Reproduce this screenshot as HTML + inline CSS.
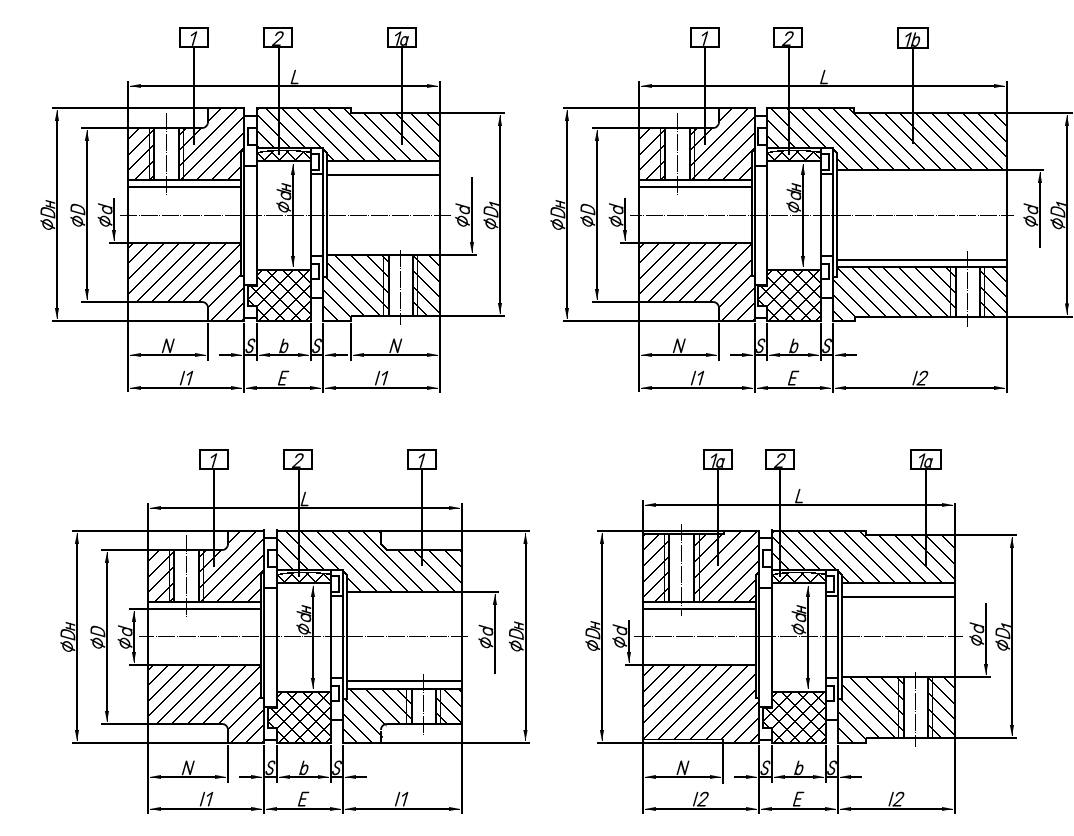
<!DOCTYPE html><html><head><meta charset="utf-8"><style>html,body{margin:0;padding:0;background:#fff;overflow:hidden;}svg{display:block;}</style></head><body><svg width="1074" height="836" viewBox="0 0 1074 836" stroke="#000" stroke-linecap="butt" shape-rendering="crispEdges"><defs><clipPath id="c1"><path d="M128,128 L154,128 L154,180 L128,180 Z M179,128 L202,128 L203.17,127.88 L204.3,127.54 L205.33,126.99 L206.24,126.24 L206.99,125.33 L207.54,124.3 L207.88,123.17 L208,122 L208,108 L244,108 L244,149 L241,152 L241,180 L179,180 Z M128,243 L241,243 L241,276 L244,276 L244,321 L208,321 L208,308 L207.88,306.83 L207.54,305.7 L206.99,304.67 L206.24,303.76 L205.33,303.01 L204.3,302.46 L203.17,302.12 L202,302 L128,302 Z" clip-rule="evenodd"/></clipPath><clipPath id="c2"><path d="M257,152.6 Q281,148.2 311,152.2 L311,161 L257,161 Z" clip-rule="evenodd"/></clipPath><clipPath id="c3"><path d="M257,152.6 Q281,148.2 311,152.2 L311,161 L257,161 Z" clip-rule="evenodd"/></clipPath><clipPath id="c4"><path d="M257,270 L311,270 L311,321 L257,321 L257,306 L248,306 L248,286 L257,286 Z" clip-rule="evenodd"/></clipPath><clipPath id="c5"><path d="M257,270 L311,270 L311,321 L257,321 L257,306 L248,306 L248,286 L257,286 Z" clip-rule="evenodd"/></clipPath><clipPath id="c6"><path d="M257,111 L257.6,109.4 L258.6,108.4 L260,108 L351,108 L351,113 L440,113 L440,161 L327,161 L327,153 L323,149 L323,148 L257,148 Z M327,255 L389,255 L389,316 L351,316 L351,321 L323,321 L323,277 L327,277 Z M413,255 L440,255 L440,316 L413,316 Z" clip-rule="evenodd"/></clipPath><clipPath id="c7"><path d="M639,128 L665,128 L665,180 L639,180 Z M690,128 L713,128 L714.17,127.88 L715.3,127.54 L716.33,126.99 L717.24,126.24 L717.99,125.33 L718.54,124.3 L718.88,123.17 L719,122 L719,108 L755,108 L755,149 L752,152 L752,180 L690,180 Z M639,243 L752,243 L752,276 L755,276 L755,321 L719,321 L719,308 L718.88,306.83 L718.54,305.7 L717.99,304.67 L717.24,303.76 L716.33,303.01 L715.3,302.46 L714.17,302.12 L713,302 L639,302 Z" clip-rule="evenodd"/></clipPath><clipPath id="c8"><path d="M767,152.6 Q791,148.2 821,152.2 L821,161 L767,161 Z" clip-rule="evenodd"/></clipPath><clipPath id="c9"><path d="M767,152.6 Q791,148.2 821,152.2 L821,161 L767,161 Z" clip-rule="evenodd"/></clipPath><clipPath id="c10"><path d="M767,270 L821,270 L821,321 L767,321 L767,306 L758,306 L758,286 L767,286 Z" clip-rule="evenodd"/></clipPath><clipPath id="c11"><path d="M767,270 L821,270 L821,321 L767,321 L767,306 L758,306 L758,286 L767,286 Z" clip-rule="evenodd"/></clipPath><clipPath id="c12"><path d="M767,108 L854,108 L854,113 L1007,113 L1007,170 L837,170 L837,153 L833,149 L833,148 L767,148 Z M837,267 L956,267 L956,316.5 L855,316.5 L855,321 L833,321 L833,276 L837,276 Z M980,267 L1007,267 L1007,316.5 L980,316.5 Z" clip-rule="evenodd"/></clipPath><clipPath id="c13"><path d="M148,550 L174,550 L174,602 L148,602 Z M199,550 L222,550 L223.17,549.88 L224.3,549.54 L225.33,548.99 L226.24,548.24 L226.99,547.33 L227.54,546.3 L227.88,545.17 L228,544 L228,531 L264,531 L264,571 L261,574 L261,602 L199,602 Z M148,665 L261,665 L261,698 L264,698 L264,743 L228,743 L228,730 L227.88,728.83 L227.54,727.7 L226.99,726.67 L226.24,725.76 L225.33,725.01 L224.3,724.46 L223.17,724.12 L222,724 L148,724 Z" clip-rule="evenodd"/></clipPath><clipPath id="c14"><path d="M277,574.6 Q301,570.2 331,574.2 L331,583 L277,583 Z" clip-rule="evenodd"/></clipPath><clipPath id="c15"><path d="M277,574.6 Q301,570.2 331,574.2 L331,583 L277,583 Z" clip-rule="evenodd"/></clipPath><clipPath id="c16"><path d="M277,692 L331,692 L331,743 L277,743 L277,728 L268,728 L268,708 L277,708 Z" clip-rule="evenodd"/></clipPath><clipPath id="c17"><path d="M277,692 L331,692 L331,743 L277,743 L277,728 L268,728 L268,708 L277,708 Z" clip-rule="evenodd"/></clipPath><clipPath id="c18"><path d="M276,533 L278,531 L381,531 L381,544 L387,550 L462,550 L462,592 L347,592 L347,575 L343,571 L343,570 L276,570 Z M347,689 L412,689 L412,724 L387,724 L381,730 L381.12,728.83 L381.46,727.7 L382.01,726.67 L382.76,725.76 L383.67,725.01 L384.7,724.46 L385.83,724.12 L387,724 L381,743 L343,743 L343,699 L347,699 Z M436,689 L462,689 L462,724 L436,724 Z" clip-rule="evenodd"/></clipPath><clipPath id="c19"><path d="M772,574.6 Q796,570.2 826,574.2 L826,583 L772,583 Z" clip-rule="evenodd"/></clipPath><clipPath id="c20"><path d="M772,574.6 Q796,570.2 826,574.2 L826,583 L772,583 Z" clip-rule="evenodd"/></clipPath><clipPath id="c21"><path d="M772,692 L826,692 L826,743 L772,743 L772,728 L763,728 L763,708 L772,708 Z" clip-rule="evenodd"/></clipPath><clipPath id="c22"><path d="M772,692 L826,692 L826,743 L772,743 L772,728 L763,728 L763,708 L772,708 Z" clip-rule="evenodd"/></clipPath><clipPath id="c23"><path d="M772,534 L772.6,532.4 L773.6,531.4 L775,531 L866,531 L866,535 L955,535 L955,583 L842,583 L842,575 L838,571 L838,570 L772,570 Z M842,677 L904,677 L904,738 L866,738 L866,743 L838,743 L838,699 L842,699 Z M928,677 L955,677 L955,738 L928,738 Z" clip-rule="evenodd"/></clipPath><clipPath id="c24"><path d="M643,536 L645,534 L669,534 L669,602 L643,602 Z M694,534 L724,534 L724,531 L759,531 L759,572 L756,575 L756,602 L694,602 Z M643,665 L756,665 L756,698 L759,698 L759,743 L723,743 L723,739.5 L643,739.5 Z" clip-rule="evenodd"/></clipPath></defs><path d="M180,28 L208,28 L208,47 L180,47 Z" stroke-width="2.0" fill="none"/><g transform="translate(194,45.2) scale(1.32) matrix(1,0,-0.29,1,0,0)" fill="none" stroke-width="1.17" stroke-linecap="round" stroke-linejoin="round" shape-rendering="geometricPrecision"><path transform="translate(-4.17,-10)" d="M0.2,2.6 L3.1,0 L3.1,10"/></g><line x1="194" y1="47" x2="194" y2="145" stroke-width="2.0"/><path d="M264,28 L292,28 L292,47 L264,47 Z" stroke-width="2.0" fill="none"/><g transform="translate(278,45.2) scale(1.32) matrix(1,0,-0.29,1,0,0)" fill="none" stroke-width="1.17" stroke-linecap="round" stroke-linejoin="round" shape-rendering="geometricPrecision"><path transform="translate(-4.05,-10)" d="M0.3,2.5 C0.5,0.9 1.7,0 3,0 C4.5,0 5.5,1 5.5,2.5 C5.5,3.9 4.6,4.9 3.5,5.9 L0,10 L5.6,10"/></g><line x1="279" y1="47" x2="279" y2="155" stroke-width="2.0"/><path d="M388,28 L416,28 L416,47 L388,47 Z" stroke-width="2.0" fill="none"/><g transform="translate(402,45.2) scale(1.32) matrix(1,0,-0.29,1,0,0)" fill="none" stroke-width="1.17" stroke-linecap="round" stroke-linejoin="round" shape-rendering="geometricPrecision"><path transform="translate(-7,-10)" d="M0.2,2.6 L3.1,0 L3.1,10"/><path transform="translate(-1.5,-10)" d="M4.3,3.6 L4.3,9.3 L4.8,10 M4.3,6.4 C4,4.6 3.1,3.6 2.1,3.6 C0.8,3.6 0,4.8 0,6.7 C0,8.7 0.9,10 2.2,10 C3.3,10 4.1,9.3 4.3,8.2"/></g><line x1="402" y1="47" x2="402" y2="145" stroke-width="2.0"/><line x1="128" y1="81" x2="128" y2="392" stroke-width="2.0"/><line x1="440" y1="81" x2="440" y2="393" stroke-width="2.0"/><line x1="138" y1="86" x2="430" y2="86" stroke-width="2.0"/><path d="M130,86 L141,83.9 L141,88.1 Z" fill="#000" stroke="none" shape-rendering="geometricPrecision"/><line x1="130" y1="86" x2="136" y2="86" stroke-width="1"/><path d="M438,86 L427,88.1 L427,83.9 Z" fill="#000" stroke="none" shape-rendering="geometricPrecision"/><line x1="432" y1="86" x2="438" y2="86" stroke-width="1"/><g transform="translate(294.6,83.6) scale(1.32) matrix(1,0,-0.29,1,0,0)" fill="none" stroke-width="1.17" stroke-linecap="round" stroke-linejoin="round" shape-rendering="geometricPrecision"><path transform="translate(-2.4,-10)" d="M0,0 L0,10 L4.8,10"/></g><line x1="52" y1="108" x2="245" y2="108" stroke-width="2.0"/><path d="M208,108 L208,122.5" stroke-width="2.0" fill="none"/><path d="M208,122 L207.88,123.17 L207.54,124.3 L206.99,125.33 L206.24,126.24 L205.33,126.99 L204.3,127.54 L203.17,127.88 L202,128" stroke-width="1.8" fill="none" shape-rendering="geometricPrecision"/><path d="M201.5,128 L81,128" stroke-width="2.0" fill="none"/><line x1="128" y1="180" x2="241" y2="180" stroke-width="2.0"/><line x1="128" y1="187" x2="241" y2="187" stroke-width="2.0"/><line x1="109" y1="243" x2="241" y2="243" stroke-width="2.0"/><path d="M81,302 L201.5,302" stroke-width="2.0" fill="none"/><path d="M202,302 L203.17,302.12 L204.3,302.46 L205.33,303.01 L206.24,303.76 L206.99,304.67 L207.54,305.7 L207.88,306.83 L208,308" stroke-width="1.8" fill="none" shape-rendering="geometricPrecision"/><path d="M208,307.5 L208,321" stroke-width="2.0" fill="none"/><line x1="52" y1="321" x2="245" y2="321" stroke-width="2.0"/><line x1="244" y1="107" x2="244" y2="322" stroke-width="2.0"/><path d="M244,149 L241,152 L241,276 L244,276" stroke-width="2.0" fill="none"/><line x1="154" y1="128" x2="154" y2="180" stroke-width="2.0"/><line x1="179" y1="128" x2="179" y2="180" stroke-width="2.0"/><line x1="149.5" y1="128" x2="149.5" y2="180" stroke-width="1.0"/><line x1="183.5" y1="128" x2="183.5" y2="180" stroke-width="1.0"/><line x1="166.5" y1="111" x2="166.5" y2="195" stroke-width="1.0" stroke-dasharray="17 1.45 1 1.45" stroke-dashoffset="19.049999999999986"/><path clip-path="url(#c1)" d="M107.5,98 L-121.5,327 M123.5,98 L-105.5,327 M138.5,98 L-90.5,327 M154.5,98 L-74.5,327 M169.5,98 L-59.5,327 M185.5,98 L-43.5,327 M200.5,98 L-28.5,327 M216.5,98 L-12.5,327 M231.5,98 L2.5,327 M247.5,98 L18.5,327 M262.5,98 L33.5,327 M278.5,98 L49.5,327 M293.5,98 L64.5,327 M309.5,98 L80.5,327 M324.5,98 L95.5,327 M340.5,98 L111.5,327 M355.5,98 L126.5,327 M371.5,98 L142.5,327 M386.5,98 L157.5,327 M402.5,98 L173.5,327 M417.5,98 L188.5,327 M433.5,98 L204.5,327 M448.5,98 L219.5,327 M464.5,98 L235.5,327 M479.5,98 L250.5,327" stroke-width="1.6" fill="none"/><line x1="244" y1="116" x2="257" y2="116" stroke-width="2.0"/><path d="M257,128 L248,128 L248,145 L257,145" stroke-width="2.0" fill="none"/><line x1="244" y1="166" x2="257" y2="166" stroke-width="2.0"/><line x1="257" y1="107" x2="257" y2="285" stroke-width="2.0"/><line x1="244" y1="284.5" x2="257" y2="284.5" stroke-width="2.0"/><path d="M258,286 L248,286 L248,306 L257,306 L257,321" stroke-width="2.0" fill="none"/><line x1="244" y1="318" x2="257" y2="318" stroke-width="2.0"/><line x1="256" y1="161" x2="311" y2="161" stroke-width="2.0"/><path d="M257,152.6 Q281,148.2 310,152.2" stroke-width="1.5" fill="none"/><path clip-path="url(#c2)" d="M249.5,143 L225.5,167 M265.5,143 L241.5,167 M281.5,143 L257.5,167 M296.5,143 L272.5,167 M312.5,143 L288.5,167 M328.5,143 L304.5,167 M344.5,143 L320.5,167" stroke-width="1.6" fill="none"/><path clip-path="url(#c3)" d="M231.5,143 L255.5,167 M247.5,143 L271.5,167 M262.5,143 L286.5,167 M278.5,143 L302.5,167 M294.5,143 L318.5,167 M310.5,143 L334.5,167 M325.5,143 L349.5,167" stroke-width="1.6" fill="none"/><line x1="256" y1="270" x2="311" y2="270" stroke-width="2.0"/><line x1="256" y1="321" x2="311" y2="321" stroke-width="2.0"/><path clip-path="url(#c4)" d="M226.5,258 L157.5,327 M242.5,258 L173.5,327 M258.5,258 L189.5,327 M274.5,258 L205.5,327 M289.5,258 L220.5,327 M305.5,258 L236.5,327 M321.5,258 L252.5,327 M337.5,258 L268.5,327 M353.5,258 L284.5,327 M368.5,258 L299.5,327 M384.5,258 L315.5,327 M400.5,258 L331.5,327" stroke-width="1.6" fill="none"/><path clip-path="url(#c5)" d="M159.5,258 L228.5,327 M175.5,258 L244.5,327 M191.5,258 L260.5,327 M206.5,258 L275.5,327 M222.5,258 L291.5,327 M238.5,258 L307.5,327 M254.5,258 L323.5,327 M270.5,258 L339.5,327 M285.5,258 L354.5,327 M301.5,258 L370.5,327 M317.5,258 L386.5,327 M333.5,258 L402.5,327" stroke-width="1.6" fill="none"/><line x1="311" y1="147" x2="311" y2="322" stroke-width="2.0"/><line x1="323" y1="147" x2="323" y2="322" stroke-width="2.0"/><path d="M323,149 L327,153 L327,277 L323,277" stroke-width="2.0" fill="none"/><path d="M312,154 L319,154 L319,170 L312,170" stroke-width="2.0" fill="none"/><line x1="311" y1="174" x2="323" y2="174" stroke-width="2.0"/><line x1="311" y1="256" x2="323" y2="256" stroke-width="2.0"/><path d="M312,264 L319,264 L319,279 L312,279" stroke-width="2.0" fill="none"/><line x1="311" y1="298" x2="323" y2="298" stroke-width="2.0"/><path d="M257,111 L257.6,109.4 L258.6,108.4 L260,108 L351,108 L351,113 L505,113" stroke-width="2.0" fill="none"/><line x1="256" y1="148" x2="324" y2="148" stroke-width="2.0"/><line x1="327" y1="161" x2="440" y2="161" stroke-width="2.0"/><line x1="327" y1="175" x2="440" y2="175" stroke-width="2.0"/><line x1="327" y1="255" x2="477" y2="255" stroke-width="2.0"/><line x1="351" y1="316" x2="505" y2="316" stroke-width="2.0"/><line x1="351" y1="316" x2="351" y2="322" stroke-width="2.0"/><line x1="323" y1="321" x2="352" y2="321" stroke-width="2.0"/><line x1="389" y1="255" x2="389" y2="316" stroke-width="2.0"/><line x1="413" y1="255" x2="413" y2="316" stroke-width="2.0"/><line x1="383.5" y1="255" x2="383.5" y2="316" stroke-width="1.0"/><line x1="417.5" y1="255" x2="417.5" y2="316" stroke-width="1.0"/><line x1="400.5" y1="250" x2="400.5" y2="325" stroke-width="1.0" stroke-dasharray="17 1.45 1 1.45" stroke-dashoffset="0"/><path clip-path="url(#c6)" d="M22.5,98 L251.5,327 M37.5,98 L266.5,327 M53.5,98 L282.5,327 M69.5,98 L298.5,327 M84.5,98 L313.5,327 M100.5,98 L329.5,327 M115.5,98 L344.5,327 M131.5,98 L360.5,327 M146.5,98 L375.5,327 M162.5,98 L391.5,327 M177.5,98 L406.5,327 M193.5,98 L422.5,327 M209.5,98 L438.5,327 M224.5,98 L453.5,327 M240.5,98 L469.5,327 M255.5,98 L484.5,327 M271.5,98 L500.5,327 M286.5,98 L515.5,327 M302.5,98 L531.5,327 M317.5,98 L546.5,327 M333.5,98 L562.5,327 M348.5,98 L577.5,327 M364.5,98 L593.5,327 M380.5,98 L609.5,327 M395.5,98 L624.5,327 M411.5,98 L640.5,327 M426.5,98 L655.5,327 M442.5,98 L671.5,327 M457.5,98 L686.5,327" stroke-width="1.6" fill="none"/><line x1="119" y1="215.5" x2="451" y2="215.5" stroke-width="1.0" stroke-dasharray="17 1.45 1 1.45" stroke-dashoffset="19.849999999999998"/><line x1="293" y1="172" x2="293" y2="259" stroke-width="2.0"/><path d="M293,164 L295.1,175 L290.9,175 Z" fill="#000" stroke="none" shape-rendering="geometricPrecision"/><line x1="293" y1="164" x2="293" y2="170" stroke-width="1"/><path d="M293,267 L290.9,256 L295.1,256 Z" fill="#000" stroke="none" shape-rendering="geometricPrecision"/><line x1="293" y1="261" x2="293" y2="267" stroke-width="1"/><g transform="translate(290.5,197.8) rotate(-90) scale(1.32) matrix(1,0,-0.29,1,0,0)" fill="none" stroke-width="1.17" stroke-linecap="round" stroke-linejoin="round" shape-rendering="geometricPrecision"><path transform="translate(-10.75,-10) matrix(1,0,0.29,1,-2.9,0)" d="M0.87,7.63 A4.0,3.1 -45 1 1 6.53,1.97 A4.0,3.1 -45 1 1 0.87,7.63 Z M0.9,10 L6.5,-0.2"/><path transform="translate(-1.95,-10)" d="M5.1,0 L5.1,10 M5.1,6.2 C4.7,4.2 3.5,3.1 2.3,3.1 C0.8,3.1 0,4.4 0,6.4 C0,8.6 1.1,10 2.6,10 C3.8,10 4.8,9.2 5.1,8"/><path transform="translate(5.05,-10)" d="M0,3.8 L0,10 M3.8,3.8 L3.8,10 M0,6.8 L3.8,6.8"/></g><line x1="57" y1="118" x2="57" y2="311" stroke-width="2.0"/><path d="M57,110 L59.1,121 L54.9,121 Z" fill="#000" stroke="none" shape-rendering="geometricPrecision"/><line x1="57" y1="110" x2="57" y2="116" stroke-width="1"/><path d="M57,319 L54.9,308 L59.1,308 Z" fill="#000" stroke="none" shape-rendering="geometricPrecision"/><line x1="57" y1="313" x2="57" y2="319" stroke-width="1"/><g transform="translate(54.5,215) rotate(-90) scale(1.32) matrix(1,0,-0.29,1,0,0)" fill="none" stroke-width="1.17" stroke-linecap="round" stroke-linejoin="round" shape-rendering="geometricPrecision"><path transform="translate(-10.95,-10) matrix(1,0,0.29,1,-2.9,0)" d="M0.87,7.63 A4.0,3.1 -45 1 1 6.53,1.97 A4.0,3.1 -45 1 1 0.87,7.63 Z M0.9,10 L6.5,-0.2"/><path transform="translate(-2.15,-10)" d="M0,0 L0,10 L2.3,10 C4.6,10 5.7,8.2 5.7,5 C5.7,1.8 4.6,0 2.3,0 Z"/><path transform="translate(5.25,-10)" d="M0,3.8 L0,10 M3.8,3.8 L3.8,10 M0,6.8 L3.8,6.8"/></g><line x1="87" y1="138" x2="87" y2="292" stroke-width="2.0"/><path d="M87,130 L89.1,141 L84.9,141 Z" fill="#000" stroke="none" shape-rendering="geometricPrecision"/><line x1="87" y1="130" x2="87" y2="136" stroke-width="1"/><path d="M87,300 L84.9,289 L89.1,289 Z" fill="#000" stroke="none" shape-rendering="geometricPrecision"/><line x1="87" y1="294" x2="87" y2="300" stroke-width="1"/><g transform="translate(84.5,215) rotate(-90) scale(1.32) matrix(1,0,-0.29,1,0,0)" fill="none" stroke-width="1.17" stroke-linecap="round" stroke-linejoin="round" shape-rendering="geometricPrecision"><path transform="translate(-8.49,-10) matrix(1,0,0.29,1,-2.9,0)" d="M0.87,7.63 A4.0,3.1 -45 1 1 6.53,1.97 A4.0,3.1 -45 1 1 0.87,7.63 Z M0.9,10 L6.5,-0.2"/><path transform="translate(0.31,-10)" d="M0,0 L0,10 L2.3,10 C4.6,10 5.7,8.2 5.7,5 C5.7,1.8 4.6,0 2.3,0 Z"/></g><line x1="114" y1="198" x2="114" y2="233" stroke-width="2.0"/><path d="M114,241 L111.9,230 L116.1,230 Z" fill="#000" stroke="none" shape-rendering="geometricPrecision"/><line x1="114" y1="235" x2="114" y2="241" stroke-width="1"/><g transform="translate(111.8,215) rotate(-90) scale(1.32) matrix(1,0,-0.29,1,0,0)" fill="none" stroke-width="1.17" stroke-linecap="round" stroke-linejoin="round" shape-rendering="geometricPrecision"><path transform="translate(-8.45,-10) matrix(1,0,0.29,1,-2.9,0)" d="M0.87,7.63 A4.0,3.1 -45 1 1 6.53,1.97 A4.0,3.1 -45 1 1 0.87,7.63 Z M0.9,10 L6.5,-0.2"/><path transform="translate(0.35,-10)" d="M5.1,0 L5.1,10 M5.1,6.2 C4.7,4.2 3.5,3.1 2.3,3.1 C0.8,3.1 0,4.4 0,6.4 C0,8.6 1.1,10 2.6,10 C3.8,10 4.8,9.2 5.1,8"/></g><line x1="472" y1="177" x2="472" y2="245" stroke-width="2.0"/><path d="M472,253 L469.9,242 L474.1,242 Z" fill="#000" stroke="none" shape-rendering="geometricPrecision"/><line x1="472" y1="247" x2="472" y2="253" stroke-width="1"/><g transform="translate(469.3,215) rotate(-90) scale(1.32) matrix(1,0,-0.29,1,0,0)" fill="none" stroke-width="1.17" stroke-linecap="round" stroke-linejoin="round" shape-rendering="geometricPrecision"><path transform="translate(-8.45,-10) matrix(1,0,0.29,1,-2.9,0)" d="M0.87,7.63 A4.0,3.1 -45 1 1 6.53,1.97 A4.0,3.1 -45 1 1 0.87,7.63 Z M0.9,10 L6.5,-0.2"/><path transform="translate(0.35,-10)" d="M5.1,0 L5.1,10 M5.1,6.2 C4.7,4.2 3.5,3.1 2.3,3.1 C0.8,3.1 0,4.4 0,6.4 C0,8.6 1.1,10 2.6,10 C3.8,10 4.8,9.2 5.1,8"/></g><line x1="500" y1="123" x2="500" y2="306" stroke-width="2.0"/><path d="M500,115 L502.1,126 L497.9,126 Z" fill="#000" stroke="none" shape-rendering="geometricPrecision"/><line x1="500" y1="115" x2="500" y2="121" stroke-width="1"/><path d="M500,314 L497.9,303 L502.1,303 Z" fill="#000" stroke="none" shape-rendering="geometricPrecision"/><line x1="500" y1="308" x2="500" y2="314" stroke-width="1"/><g transform="translate(497.6,215.5) rotate(-90) scale(1.32) matrix(1,0,-0.29,1,0,0)" fill="none" stroke-width="1.17" stroke-linecap="round" stroke-linejoin="round" shape-rendering="geometricPrecision"><path transform="translate(-9.94,-10) matrix(1,0,0.29,1,-2.9,0)" d="M0.87,7.63 A4.0,3.1 -45 1 1 6.53,1.97 A4.0,3.1 -45 1 1 0.87,7.63 Z M0.9,10 L6.5,-0.2"/><path transform="translate(-1.14,-10)" d="M0,0 L0,10 L2.3,10 C4.6,10 5.7,8.2 5.7,5 C5.7,1.8 4.6,0 2.3,0 Z"/><path transform="translate(6.26,-10)" d="M0,5.8 L1.9,4.2 L1.9,11"/></g><line x1="208" y1="323" x2="208" y2="361" stroke-width="2.0"/><line x1="257" y1="323" x2="257" y2="361" stroke-width="2.0"/><line x1="311" y1="323" x2="311" y2="361" stroke-width="2.0"/><line x1="351" y1="323" x2="351" y2="361" stroke-width="2.0"/><line x1="244" y1="323" x2="244" y2="393" stroke-width="2.0"/><line x1="323" y1="323" x2="323" y2="393" stroke-width="2.0"/><line x1="138" y1="355" x2="198" y2="355" stroke-width="2.0"/><path d="M130,355 L141,352.9 L141,357.1 Z" fill="#000" stroke="none" shape-rendering="geometricPrecision"/><line x1="130" y1="355" x2="136" y2="355" stroke-width="1"/><path d="M206,355 L195,357.1 L195,352.9 Z" fill="#000" stroke="none" shape-rendering="geometricPrecision"/><line x1="200" y1="355" x2="206" y2="355" stroke-width="1"/><g transform="translate(168.3,352.4) scale(1.32) matrix(1,0,-0.29,1,0,0)" fill="none" stroke-width="1.17" stroke-linecap="round" stroke-linejoin="round" shape-rendering="geometricPrecision"><path transform="translate(-4.3,-10)" d="M0,10 L0,0 L5.7,10 L5.7,0"/></g><line x1="219" y1="355" x2="234" y2="355" stroke-width="2.0"/><path d="M242,355 L231,357.1 L231,352.9 Z" fill="#000" stroke="none" shape-rendering="geometricPrecision"/><line x1="236" y1="355" x2="242" y2="355" stroke-width="1"/><line x1="244" y1="355" x2="257" y2="355" stroke-width="2.0"/><g transform="translate(250.5,352.4) scale(1.32) matrix(1,0,-0.29,1,0,0)" fill="none" stroke-width="1.17" stroke-linecap="round" stroke-linejoin="round" shape-rendering="geometricPrecision"><path transform="translate(-3.83,-10)" d="M4.6,1.9 C4.4,0.6 3.5,0 2.4,0 C1,0 0.2,1 0.2,2.5 C0.2,4 1.3,4.6 2.5,5 C3.8,5.4 4.8,6.1 4.8,7.6 C4.8,9.2 3.8,10 2.4,10 C1.2,10 0.3,9.2 0,7.9"/></g><line x1="267" y1="355" x2="301" y2="355" stroke-width="2.0"/><path d="M259,355 L270,352.9 L270,357.1 Z" fill="#000" stroke="none" shape-rendering="geometricPrecision"/><line x1="259" y1="355" x2="265" y2="355" stroke-width="1"/><path d="M309,355 L298,357.1 L298,352.9 Z" fill="#000" stroke="none" shape-rendering="geometricPrecision"/><line x1="303" y1="355" x2="309" y2="355" stroke-width="1"/><g transform="translate(284,352.4) scale(1.32) matrix(1,0,-0.29,1,0,0)" fill="none" stroke-width="1.17" stroke-linecap="round" stroke-linejoin="round" shape-rendering="geometricPrecision"><path transform="translate(-4.01,-10)" d="M0.9,0 L0.9,10 M0.9,6.2 C1.3,4.2 2.4,3.1 3.4,3.1 C4.8,3.1 5.5,4.4 5.5,6.4 C5.5,8.6 4.5,10 3.2,10 C2.1,10 1.2,9.2 0.9,8"/></g><line x1="311" y1="355" x2="323" y2="355" stroke-width="2.0"/><g transform="translate(317.1,352.4) scale(1.32) matrix(1,0,-0.29,1,0,0)" fill="none" stroke-width="1.17" stroke-linecap="round" stroke-linejoin="round" shape-rendering="geometricPrecision"><path transform="translate(-3.83,-10)" d="M4.6,1.9 C4.4,0.6 3.5,0 2.4,0 C1,0 0.2,1 0.2,2.5 C0.2,4 1.3,4.6 2.5,5 C3.8,5.4 4.8,6.1 4.8,7.6 C4.8,9.2 3.8,10 2.4,10 C1.2,10 0.3,9.2 0,7.9"/></g><line x1="348" y1="355" x2="333" y2="355" stroke-width="2.0"/><path d="M325,355 L336,352.9 L336,357.1 Z" fill="#000" stroke="none" shape-rendering="geometricPrecision"/><line x1="331" y1="355" x2="325" y2="355" stroke-width="1"/><line x1="361" y1="355" x2="430" y2="355" stroke-width="2.0"/><path d="M353,355 L364,352.9 L364,357.1 Z" fill="#000" stroke="none" shape-rendering="geometricPrecision"/><line x1="353" y1="355" x2="359" y2="355" stroke-width="1"/><path d="M438,355 L427,357.1 L427,352.9 Z" fill="#000" stroke="none" shape-rendering="geometricPrecision"/><line x1="432" y1="355" x2="438" y2="355" stroke-width="1"/><g transform="translate(395.8,352.4) scale(1.32) matrix(1,0,-0.29,1,0,0)" fill="none" stroke-width="1.17" stroke-linecap="round" stroke-linejoin="round" shape-rendering="geometricPrecision"><path transform="translate(-4.3,-10)" d="M0,10 L0,0 L5.7,10 L5.7,0"/></g><line x1="138" y1="388" x2="234" y2="388" stroke-width="2.0"/><path d="M130,388 L141,385.9 L141,390.1 Z" fill="#000" stroke="none" shape-rendering="geometricPrecision"/><line x1="130" y1="388" x2="136" y2="388" stroke-width="1"/><path d="M242,388 L231,390.1 L231,385.9 Z" fill="#000" stroke="none" shape-rendering="geometricPrecision"/><line x1="236" y1="388" x2="242" y2="388" stroke-width="1"/><g transform="translate(186.5,384.7) scale(1.32) matrix(1,0,-0.29,1,0,0)" fill="none" stroke-width="1.17" stroke-linecap="round" stroke-linejoin="round" shape-rendering="geometricPrecision"><path transform="translate(-4.5,-10)" d="M0,10 L0,0"/><path transform="translate(-1.5,-10)" d="M0.2,2.6 L3.1,0 L3.1,10"/></g><line x1="254" y1="388" x2="313" y2="388" stroke-width="2.0"/><path d="M246,388 L257,385.9 L257,390.1 Z" fill="#000" stroke="none" shape-rendering="geometricPrecision"/><line x1="246" y1="388" x2="252" y2="388" stroke-width="1"/><path d="M321,388 L310,390.1 L310,385.9 Z" fill="#000" stroke="none" shape-rendering="geometricPrecision"/><line x1="315" y1="388" x2="321" y2="388" stroke-width="1"/><g transform="translate(283.6,384.7) scale(1.32) matrix(1,0,-0.29,1,0,0)" fill="none" stroke-width="1.17" stroke-linecap="round" stroke-linejoin="round" shape-rendering="geometricPrecision"><path transform="translate(-3.75,-10)" d="M4.6,0 L0,0 L0,10 L4.6,10 M0,5 L3.9,5"/></g><line x1="333" y1="388" x2="430" y2="388" stroke-width="2.0"/><path d="M325,388 L336,385.9 L336,390.1 Z" fill="#000" stroke="none" shape-rendering="geometricPrecision"/><line x1="325" y1="388" x2="331" y2="388" stroke-width="1"/><path d="M438,388 L427,390.1 L427,385.9 Z" fill="#000" stroke="none" shape-rendering="geometricPrecision"/><line x1="432" y1="388" x2="438" y2="388" stroke-width="1"/><g transform="translate(381.6,384.7) scale(1.32) matrix(1,0,-0.29,1,0,0)" fill="none" stroke-width="1.17" stroke-linecap="round" stroke-linejoin="round" shape-rendering="geometricPrecision"><path transform="translate(-4.5,-10)" d="M0,10 L0,0"/><path transform="translate(-1.5,-10)" d="M0.2,2.6 L3.1,0 L3.1,10"/></g><path d="M691,28 L719,28 L719,47 L691,47 Z" stroke-width="2.0" fill="none"/><g transform="translate(705,45.2) scale(1.32) matrix(1,0,-0.29,1,0,0)" fill="none" stroke-width="1.17" stroke-linecap="round" stroke-linejoin="round" shape-rendering="geometricPrecision"><path transform="translate(-4.17,-10)" d="M0.2,2.6 L3.1,0 L3.1,10"/></g><line x1="705" y1="47" x2="705" y2="145" stroke-width="2.0"/><line x1="639" y1="81" x2="639" y2="392" stroke-width="2.0"/><line x1="563" y1="108" x2="756" y2="108" stroke-width="2.0"/><path d="M719,108 L719,122.5" stroke-width="2.0" fill="none"/><path d="M719,122 L718.88,123.17 L718.54,124.3 L717.99,125.33 L717.24,126.24 L716.33,126.99 L715.3,127.54 L714.17,127.88 L713,128" stroke-width="1.8" fill="none" shape-rendering="geometricPrecision"/><path d="M712.5,128 L592,128" stroke-width="2.0" fill="none"/><line x1="639" y1="180" x2="752" y2="180" stroke-width="2.0"/><line x1="639" y1="187" x2="752" y2="187" stroke-width="2.0"/><line x1="620" y1="243" x2="752" y2="243" stroke-width="2.0"/><path d="M592,302 L712.5,302" stroke-width="2.0" fill="none"/><path d="M713,302 L714.17,302.12 L715.3,302.46 L716.33,303.01 L717.24,303.76 L717.99,304.67 L718.54,305.7 L718.88,306.83 L719,308" stroke-width="1.8" fill="none" shape-rendering="geometricPrecision"/><path d="M719,307.5 L719,321" stroke-width="2.0" fill="none"/><line x1="563" y1="321" x2="756" y2="321" stroke-width="2.0"/><line x1="755" y1="107" x2="755" y2="322" stroke-width="2.0"/><path d="M755,149 L752,152 L752,276 L755,276" stroke-width="2.0" fill="none"/><line x1="665" y1="128" x2="665" y2="180" stroke-width="2.0"/><line x1="690" y1="128" x2="690" y2="180" stroke-width="2.0"/><line x1="660.5" y1="128" x2="660.5" y2="180" stroke-width="1.0"/><line x1="694.5" y1="128" x2="694.5" y2="180" stroke-width="1.0"/><line x1="677.5" y1="111" x2="677.5" y2="195" stroke-width="1.0" stroke-dasharray="17 1.45 1 1.45" stroke-dashoffset="19.049999999999986"/><path clip-path="url(#c7)" d="M618.5,98 L389.5,327 M634.5,98 L405.5,327 M649.5,98 L420.5,327 M665.5,98 L436.5,327 M680.5,98 L451.5,327 M696.5,98 L467.5,327 M711.5,98 L482.5,327 M727.5,98 L498.5,327 M742.5,98 L513.5,327 M758.5,98 L529.5,327 M773.5,98 L544.5,327 M789.5,98 L560.5,327 M804.5,98 L575.5,327 M820.5,98 L591.5,327 M835.5,98 L606.5,327 M851.5,98 L622.5,327 M866.5,98 L637.5,327 M882.5,98 L653.5,327 M897.5,98 L668.5,327 M913.5,98 L684.5,327 M928.5,98 L699.5,327 M944.5,98 L715.5,327 M959.5,98 L730.5,327 M975.5,98 L746.5,327 M990.5,98 L761.5,327" stroke-width="1.6" fill="none"/><line x1="567" y1="118" x2="567" y2="311" stroke-width="2.0"/><path d="M567,110 L569.1,121 L564.9,121 Z" fill="#000" stroke="none" shape-rendering="geometricPrecision"/><line x1="567" y1="110" x2="567" y2="116" stroke-width="1"/><path d="M567,319 L564.9,308 L569.1,308 Z" fill="#000" stroke="none" shape-rendering="geometricPrecision"/><line x1="567" y1="313" x2="567" y2="319" stroke-width="1"/><g transform="translate(564.5,215) rotate(-90) scale(1.32) matrix(1,0,-0.29,1,0,0)" fill="none" stroke-width="1.17" stroke-linecap="round" stroke-linejoin="round" shape-rendering="geometricPrecision"><path transform="translate(-10.95,-10) matrix(1,0,0.29,1,-2.9,0)" d="M0.87,7.63 A4.0,3.1 -45 1 1 6.53,1.97 A4.0,3.1 -45 1 1 0.87,7.63 Z M0.9,10 L6.5,-0.2"/><path transform="translate(-2.15,-10)" d="M0,0 L0,10 L2.3,10 C4.6,10 5.7,8.2 5.7,5 C5.7,1.8 4.6,0 2.3,0 Z"/><path transform="translate(5.25,-10)" d="M0,3.8 L0,10 M3.8,3.8 L3.8,10 M0,6.8 L3.8,6.8"/></g><line x1="597" y1="138" x2="597" y2="292" stroke-width="2.0"/><path d="M597,130 L599.1,141 L594.9,141 Z" fill="#000" stroke="none" shape-rendering="geometricPrecision"/><line x1="597" y1="130" x2="597" y2="136" stroke-width="1"/><path d="M597,300 L594.9,289 L599.1,289 Z" fill="#000" stroke="none" shape-rendering="geometricPrecision"/><line x1="597" y1="294" x2="597" y2="300" stroke-width="1"/><g transform="translate(594.5,215) rotate(-90) scale(1.32) matrix(1,0,-0.29,1,0,0)" fill="none" stroke-width="1.17" stroke-linecap="round" stroke-linejoin="round" shape-rendering="geometricPrecision"><path transform="translate(-8.49,-10) matrix(1,0,0.29,1,-2.9,0)" d="M0.87,7.63 A4.0,3.1 -45 1 1 6.53,1.97 A4.0,3.1 -45 1 1 0.87,7.63 Z M0.9,10 L6.5,-0.2"/><path transform="translate(0.31,-10)" d="M0,0 L0,10 L2.3,10 C4.6,10 5.7,8.2 5.7,5 C5.7,1.8 4.6,0 2.3,0 Z"/></g><line x1="625" y1="198" x2="625" y2="233" stroke-width="2.0"/><path d="M625,241 L622.9,230 L627.1,230 Z" fill="#000" stroke="none" shape-rendering="geometricPrecision"/><line x1="625" y1="235" x2="625" y2="241" stroke-width="1"/><g transform="translate(622.8,215) rotate(-90) scale(1.32) matrix(1,0,-0.29,1,0,0)" fill="none" stroke-width="1.17" stroke-linecap="round" stroke-linejoin="round" shape-rendering="geometricPrecision"><path transform="translate(-8.45,-10) matrix(1,0,0.29,1,-2.9,0)" d="M0.87,7.63 A4.0,3.1 -45 1 1 6.53,1.97 A4.0,3.1 -45 1 1 0.87,7.63 Z M0.9,10 L6.5,-0.2"/><path transform="translate(0.35,-10)" d="M5.1,0 L5.1,10 M5.1,6.2 C4.7,4.2 3.5,3.1 2.3,3.1 C0.8,3.1 0,4.4 0,6.4 C0,8.6 1.1,10 2.6,10 C3.8,10 4.8,9.2 5.1,8"/></g><line x1="719" y1="323" x2="719" y2="361" stroke-width="2.0"/><line x1="755" y1="323" x2="755" y2="393" stroke-width="2.0"/><line x1="649" y1="355" x2="709" y2="355" stroke-width="2.0"/><path d="M641,355 L652,352.9 L652,357.1 Z" fill="#000" stroke="none" shape-rendering="geometricPrecision"/><line x1="641" y1="355" x2="647" y2="355" stroke-width="1"/><path d="M717,355 L706,357.1 L706,352.9 Z" fill="#000" stroke="none" shape-rendering="geometricPrecision"/><line x1="711" y1="355" x2="717" y2="355" stroke-width="1"/><g transform="translate(679.3,352.4) scale(1.32) matrix(1,0,-0.29,1,0,0)" fill="none" stroke-width="1.17" stroke-linecap="round" stroke-linejoin="round" shape-rendering="geometricPrecision"><path transform="translate(-4.3,-10)" d="M0,10 L0,0 L5.7,10 L5.7,0"/></g><line x1="730" y1="355" x2="745" y2="355" stroke-width="2.0"/><path d="M753,355 L742,357.1 L742,352.9 Z" fill="#000" stroke="none" shape-rendering="geometricPrecision"/><line x1="747" y1="355" x2="753" y2="355" stroke-width="1"/><line x1="649" y1="388" x2="745" y2="388" stroke-width="2.0"/><path d="M641,388 L652,385.9 L652,390.1 Z" fill="#000" stroke="none" shape-rendering="geometricPrecision"/><line x1="641" y1="388" x2="647" y2="388" stroke-width="1"/><path d="M753,388 L742,390.1 L742,385.9 Z" fill="#000" stroke="none" shape-rendering="geometricPrecision"/><line x1="747" y1="388" x2="753" y2="388" stroke-width="1"/><g transform="translate(697.5,384.7) scale(1.32) matrix(1,0,-0.29,1,0,0)" fill="none" stroke-width="1.17" stroke-linecap="round" stroke-linejoin="round" shape-rendering="geometricPrecision"><path transform="translate(-4.5,-10)" d="M0,10 L0,0"/><path transform="translate(-1.5,-10)" d="M0.2,2.6 L3.1,0 L3.1,10"/></g><path d="M774,28 L802,28 L802,47 L774,47 Z" stroke-width="2.0" fill="none"/><g transform="translate(788,45.2) scale(1.32) matrix(1,0,-0.29,1,0,0)" fill="none" stroke-width="1.17" stroke-linecap="round" stroke-linejoin="round" shape-rendering="geometricPrecision"><path transform="translate(-4.05,-10)" d="M0.3,2.5 C0.5,0.9 1.7,0 3,0 C4.5,0 5.5,1 5.5,2.5 C5.5,3.9 4.6,4.9 3.5,5.9 L0,10 L5.6,10"/></g><line x1="789" y1="47" x2="789" y2="155" stroke-width="2.0"/><line x1="754" y1="116" x2="767" y2="116" stroke-width="2.0"/><path d="M767,128 L758,128 L758,145 L767,145" stroke-width="2.0" fill="none"/><line x1="754" y1="166" x2="767" y2="166" stroke-width="2.0"/><line x1="767" y1="107" x2="767" y2="285" stroke-width="2.0"/><line x1="754" y1="284.5" x2="767" y2="284.5" stroke-width="2.0"/><path d="M768,286 L758,286 L758,306 L767,306 L767,321" stroke-width="2.0" fill="none"/><line x1="754" y1="318" x2="767" y2="318" stroke-width="2.0"/><line x1="766" y1="161" x2="821" y2="161" stroke-width="2.0"/><path d="M767,152.6 Q791,148.2 820,152.2" stroke-width="1.5" fill="none"/><path clip-path="url(#c8)" d="M759.5,143 L735.5,167 M775.5,143 L751.5,167 M791.5,143 L767.5,167 M806.5,143 L782.5,167 M822.5,143 L798.5,167 M838.5,143 L814.5,167 M854.5,143 L830.5,167" stroke-width="1.6" fill="none"/><path clip-path="url(#c9)" d="M741.5,143 L765.5,167 M757.5,143 L781.5,167 M772.5,143 L796.5,167 M788.5,143 L812.5,167 M804.5,143 L828.5,167 M820.5,143 L844.5,167 M835.5,143 L859.5,167" stroke-width="1.6" fill="none"/><line x1="766" y1="270" x2="821" y2="270" stroke-width="2.0"/><line x1="766" y1="321" x2="821" y2="321" stroke-width="2.0"/><path clip-path="url(#c10)" d="M736.5,258 L667.5,327 M752.5,258 L683.5,327 M768.5,258 L699.5,327 M784.5,258 L715.5,327 M799.5,258 L730.5,327 M815.5,258 L746.5,327 M831.5,258 L762.5,327 M847.5,258 L778.5,327 M863.5,258 L794.5,327 M878.5,258 L809.5,327 M894.5,258 L825.5,327 M910.5,258 L841.5,327" stroke-width="1.6" fill="none"/><path clip-path="url(#c11)" d="M669.5,258 L738.5,327 M685.5,258 L754.5,327 M701.5,258 L770.5,327 M716.5,258 L785.5,327 M732.5,258 L801.5,327 M748.5,258 L817.5,327 M764.5,258 L833.5,327 M780.5,258 L849.5,327 M795.5,258 L864.5,327 M811.5,258 L880.5,327 M827.5,258 L896.5,327 M843.5,258 L912.5,327" stroke-width="1.6" fill="none"/><line x1="821" y1="147" x2="821" y2="322" stroke-width="2.0"/><line x1="833" y1="147" x2="833" y2="322" stroke-width="2.0"/><path d="M833,149 L837,153 L837,277 L833,277" stroke-width="2.0" fill="none"/><path d="M822,154 L829,154 L829,170 L822,170" stroke-width="2.0" fill="none"/><line x1="821" y1="174" x2="833" y2="174" stroke-width="2.0"/><line x1="821" y1="256" x2="833" y2="256" stroke-width="2.0"/><path d="M822,264 L829,264 L829,279 L822,279" stroke-width="2.0" fill="none"/><line x1="821" y1="298" x2="833" y2="298" stroke-width="2.0"/><line x1="803" y1="172" x2="803" y2="259" stroke-width="2.0"/><path d="M803,164 L805.1,175 L800.9,175 Z" fill="#000" stroke="none" shape-rendering="geometricPrecision"/><line x1="803" y1="164" x2="803" y2="170" stroke-width="1"/><path d="M803,267 L800.9,256 L805.1,256 Z" fill="#000" stroke="none" shape-rendering="geometricPrecision"/><line x1="803" y1="261" x2="803" y2="267" stroke-width="1"/><g transform="translate(800.5,197.8) rotate(-90) scale(1.32) matrix(1,0,-0.29,1,0,0)" fill="none" stroke-width="1.17" stroke-linecap="round" stroke-linejoin="round" shape-rendering="geometricPrecision"><path transform="translate(-10.75,-10) matrix(1,0,0.29,1,-2.9,0)" d="M0.87,7.63 A4.0,3.1 -45 1 1 6.53,1.97 A4.0,3.1 -45 1 1 0.87,7.63 Z M0.9,10 L6.5,-0.2"/><path transform="translate(-1.95,-10)" d="M5.1,0 L5.1,10 M5.1,6.2 C4.7,4.2 3.5,3.1 2.3,3.1 C0.8,3.1 0,4.4 0,6.4 C0,8.6 1.1,10 2.6,10 C3.8,10 4.8,9.2 5.1,8"/><path transform="translate(5.05,-10)" d="M0,3.8 L0,10 M3.8,3.8 L3.8,10 M0,6.8 L3.8,6.8"/></g><line x1="767" y1="323" x2="767" y2="361" stroke-width="2.0"/><line x1="821" y1="323" x2="821" y2="361" stroke-width="2.0"/><line x1="833" y1="323" x2="833" y2="393" stroke-width="2.0"/><line x1="755" y1="355" x2="767" y2="355" stroke-width="2.0"/><g transform="translate(760.5,352.4) scale(1.32) matrix(1,0,-0.29,1,0,0)" fill="none" stroke-width="1.17" stroke-linecap="round" stroke-linejoin="round" shape-rendering="geometricPrecision"><path transform="translate(-3.83,-10)" d="M4.6,1.9 C4.4,0.6 3.5,0 2.4,0 C1,0 0.2,1 0.2,2.5 C0.2,4 1.3,4.6 2.5,5 C3.8,5.4 4.8,6.1 4.8,7.6 C4.8,9.2 3.8,10 2.4,10 C1.2,10 0.3,9.2 0,7.9"/></g><line x1="777" y1="355" x2="811" y2="355" stroke-width="2.0"/><path d="M769,355 L780,352.9 L780,357.1 Z" fill="#000" stroke="none" shape-rendering="geometricPrecision"/><line x1="769" y1="355" x2="775" y2="355" stroke-width="1"/><path d="M819,355 L808,357.1 L808,352.9 Z" fill="#000" stroke="none" shape-rendering="geometricPrecision"/><line x1="813" y1="355" x2="819" y2="355" stroke-width="1"/><g transform="translate(794,352.4) scale(1.32) matrix(1,0,-0.29,1,0,0)" fill="none" stroke-width="1.17" stroke-linecap="round" stroke-linejoin="round" shape-rendering="geometricPrecision"><path transform="translate(-4.01,-10)" d="M0.9,0 L0.9,10 M0.9,6.2 C1.3,4.2 2.4,3.1 3.4,3.1 C4.8,3.1 5.5,4.4 5.5,6.4 C5.5,8.6 4.5,10 3.2,10 C2.1,10 1.2,9.2 0.9,8"/></g><line x1="821" y1="355" x2="833" y2="355" stroke-width="2.0"/><g transform="translate(827.1,352.4) scale(1.32) matrix(1,0,-0.29,1,0,0)" fill="none" stroke-width="1.17" stroke-linecap="round" stroke-linejoin="round" shape-rendering="geometricPrecision"><path transform="translate(-3.83,-10)" d="M4.6,1.9 C4.4,0.6 3.5,0 2.4,0 C1,0 0.2,1 0.2,2.5 C0.2,4 1.3,4.6 2.5,5 C3.8,5.4 4.8,6.1 4.8,7.6 C4.8,9.2 3.8,10 2.4,10 C1.2,10 0.3,9.2 0,7.9"/></g><line x1="857" y1="355" x2="843" y2="355" stroke-width="2.0"/><path d="M835,355 L846,352.9 L846,357.1 Z" fill="#000" stroke="none" shape-rendering="geometricPrecision"/><line x1="841" y1="355" x2="835" y2="355" stroke-width="1"/><line x1="765" y1="388" x2="823" y2="388" stroke-width="2.0"/><path d="M757,388 L768,385.9 L768,390.1 Z" fill="#000" stroke="none" shape-rendering="geometricPrecision"/><line x1="757" y1="388" x2="763" y2="388" stroke-width="1"/><path d="M831,388 L820,390.1 L820,385.9 Z" fill="#000" stroke="none" shape-rendering="geometricPrecision"/><line x1="825" y1="388" x2="831" y2="388" stroke-width="1"/><g transform="translate(793.6,384.7) scale(1.32) matrix(1,0,-0.29,1,0,0)" fill="none" stroke-width="1.17" stroke-linecap="round" stroke-linejoin="round" shape-rendering="geometricPrecision"><path transform="translate(-3.75,-10)" d="M4.6,0 L0,0 L0,10 L4.6,10 M0,5 L3.9,5"/></g><path d="M767,108 L854,108 L854,113 L1073,113" stroke-width="2.0" fill="none"/><line x1="766" y1="148" x2="834" y2="148" stroke-width="2.0"/><line x1="837" y1="170" x2="1044" y2="170" stroke-width="2.0"/><line x1="837" y1="260" x2="1007" y2="260" stroke-width="2.0"/><line x1="837" y1="267" x2="1007" y2="267" stroke-width="2.0"/><line x1="855" y1="316.5" x2="1073" y2="316.5" stroke-width="2.0"/><line x1="855" y1="316" x2="855" y2="322" stroke-width="2.0"/><line x1="833" y1="321" x2="856" y2="321" stroke-width="2.0"/><line x1="956" y1="267" x2="956" y2="316" stroke-width="2.0"/><line x1="980" y1="267" x2="980" y2="316" stroke-width="2.0"/><line x1="950.5" y1="267" x2="950.5" y2="316" stroke-width="1.0"/><line x1="984.5" y1="267" x2="984.5" y2="316" stroke-width="1.0"/><line x1="967.5" y1="251" x2="967.5" y2="327" stroke-width="1.0" stroke-dasharray="17 1.45 1 1.45" stroke-dashoffset="0"/><path clip-path="url(#c12)" d="M527.5,98 L756.5,327 M542.5,98 L771.5,327 M558.5,98 L787.5,327 M573.5,98 L802.5,327 M589.5,98 L818.5,327 M605.5,98 L834.5,327 M620.5,98 L849.5,327 M636.5,98 L865.5,327 M651.5,98 L880.5,327 M667.5,98 L896.5,327 M682.5,98 L911.5,327 M698.5,98 L927.5,327 M713.5,98 L942.5,327 M729.5,98 L958.5,327 M745.5,98 L974.5,327 M760.5,98 L989.5,327 M776.5,98 L1005.5,327 M791.5,98 L1020.5,327 M807.5,98 L1036.5,327 M822.5,98 L1051.5,327 M838.5,98 L1067.5,327 M853.5,98 L1082.5,327 M869.5,98 L1098.5,327 M884.5,98 L1113.5,327 M900.5,98 L1129.5,327 M916.5,98 L1145.5,327 M931.5,98 L1160.5,327 M947.5,98 L1176.5,327 M962.5,98 L1191.5,327 M978.5,98 L1207.5,327 M993.5,98 L1222.5,327 M1009.5,98 L1238.5,327" stroke-width="1.6" fill="none"/><path d="M898,28 L928,28 L928,48 L898,48 Z" stroke-width="2.0" fill="none"/><g transform="translate(913,46.2) scale(1.32) matrix(1,0,-0.29,1,0,0)" fill="none" stroke-width="1.17" stroke-linecap="round" stroke-linejoin="round" shape-rendering="geometricPrecision"><path transform="translate(-7.49,-10)" d="M0.2,2.6 L3.1,0 L3.1,10"/><path transform="translate(-1.99,-10)" d="M0.9,0 L0.9,10 M0.9,6.2 C1.3,4.2 2.4,3.1 3.4,3.1 C4.8,3.1 5.5,4.4 5.5,6.4 C5.5,8.6 4.5,10 3.2,10 C2.1,10 1.2,9.2 0.9,8"/></g><line x1="913" y1="48" x2="913" y2="144" stroke-width="2.0"/><line x1="1007" y1="81" x2="1007" y2="393" stroke-width="2.0"/><line x1="649" y1="86" x2="997" y2="86" stroke-width="2.0"/><path d="M641,86 L652,83.9 L652,88.1 Z" fill="#000" stroke="none" shape-rendering="geometricPrecision"/><line x1="641" y1="86" x2="647" y2="86" stroke-width="1"/><path d="M1005,86 L994,88.1 L994,83.9 Z" fill="#000" stroke="none" shape-rendering="geometricPrecision"/><line x1="999" y1="86" x2="1005" y2="86" stroke-width="1"/><g transform="translate(824,83.6) scale(1.32) matrix(1,0,-0.29,1,0,0)" fill="none" stroke-width="1.17" stroke-linecap="round" stroke-linejoin="round" shape-rendering="geometricPrecision"><path transform="translate(-2.4,-10)" d="M0,0 L0,10 L4.8,10"/></g><line x1="630" y1="215.5" x2="1014" y2="215.5" stroke-width="1.0" stroke-dasharray="17 1.45 1 1.45" stroke-dashoffset="5.249999999999993"/><line x1="1040" y1="248" x2="1040" y2="180" stroke-width="2.0"/><path d="M1040,172 L1042.1,183 L1037.9,183 Z" fill="#000" stroke="none" shape-rendering="geometricPrecision"/><line x1="1040" y1="178" x2="1040" y2="172" stroke-width="1"/><g transform="translate(1037.5,215) rotate(-90) scale(1.32) matrix(1,0,-0.29,1,0,0)" fill="none" stroke-width="1.17" stroke-linecap="round" stroke-linejoin="round" shape-rendering="geometricPrecision"><path transform="translate(-8.45,-10) matrix(1,0,0.29,1,-2.9,0)" d="M0.87,7.63 A4.0,3.1 -45 1 1 6.53,1.97 A4.0,3.1 -45 1 1 0.87,7.63 Z M0.9,10 L6.5,-0.2"/><path transform="translate(0.35,-10)" d="M5.1,0 L5.1,10 M5.1,6.2 C4.7,4.2 3.5,3.1 2.3,3.1 C0.8,3.1 0,4.4 0,6.4 C0,8.6 1.1,10 2.6,10 C3.8,10 4.8,9.2 5.1,8"/></g><line x1="1067" y1="123" x2="1067" y2="306.5" stroke-width="2.0"/><path d="M1067,115 L1069.1,126 L1064.9,126 Z" fill="#000" stroke="none" shape-rendering="geometricPrecision"/><line x1="1067" y1="115" x2="1067" y2="121" stroke-width="1"/><path d="M1067,314.5 L1064.9,303.5 L1069.1,303.5 Z" fill="#000" stroke="none" shape-rendering="geometricPrecision"/><line x1="1067" y1="308.5" x2="1067" y2="314.5" stroke-width="1"/><g transform="translate(1064.5,215.5) rotate(-90) scale(1.32) matrix(1,0,-0.29,1,0,0)" fill="none" stroke-width="1.17" stroke-linecap="round" stroke-linejoin="round" shape-rendering="geometricPrecision"><path transform="translate(-9.94,-10) matrix(1,0,0.29,1,-2.9,0)" d="M0.87,7.63 A4.0,3.1 -45 1 1 6.53,1.97 A4.0,3.1 -45 1 1 0.87,7.63 Z M0.9,10 L6.5,-0.2"/><path transform="translate(-1.14,-10)" d="M0,0 L0,10 L2.3,10 C4.6,10 5.7,8.2 5.7,5 C5.7,1.8 4.6,0 2.3,0 Z"/><path transform="translate(6.26,-10)" d="M0,5.8 L1.9,4.2 L1.9,11"/></g><line x1="843" y1="388" x2="997" y2="388" stroke-width="2.0"/><path d="M835,388 L846,385.9 L846,390.1 Z" fill="#000" stroke="none" shape-rendering="geometricPrecision"/><line x1="835" y1="388" x2="841" y2="388" stroke-width="1"/><path d="M1005,388 L994,390.1 L994,385.9 Z" fill="#000" stroke="none" shape-rendering="geometricPrecision"/><line x1="999" y1="388" x2="1005" y2="388" stroke-width="1"/><g transform="translate(920.5,384.7) scale(1.32) matrix(1,0,-0.29,1,0,0)" fill="none" stroke-width="1.17" stroke-linecap="round" stroke-linejoin="round" shape-rendering="geometricPrecision"><path transform="translate(-5.55,-10)" d="M0,10 L0,0"/><path transform="translate(-2.55,-10)" d="M0.3,2.5 C0.5,0.9 1.7,0 3,0 C4.5,0 5.5,1 5.5,2.5 C5.5,3.9 4.6,4.9 3.5,5.9 L0,10 L5.6,10"/></g><path d="M200,450 L228,450 L228,469 L200,469 Z" stroke-width="2.0" fill="none"/><g transform="translate(214,467.2) scale(1.32) matrix(1,0,-0.29,1,0,0)" fill="none" stroke-width="1.17" stroke-linecap="round" stroke-linejoin="round" shape-rendering="geometricPrecision"><path transform="translate(-4.17,-10)" d="M0.2,2.6 L3.1,0 L3.1,10"/></g><line x1="214" y1="469" x2="214" y2="567" stroke-width="2.0"/><path d="M284,450 L312,450 L312,469 L284,469 Z" stroke-width="2.0" fill="none"/><g transform="translate(298,467.2) scale(1.32) matrix(1,0,-0.29,1,0,0)" fill="none" stroke-width="1.17" stroke-linecap="round" stroke-linejoin="round" shape-rendering="geometricPrecision"><path transform="translate(-4.05,-10)" d="M0.3,2.5 C0.5,0.9 1.7,0 3,0 C4.5,0 5.5,1 5.5,2.5 C5.5,3.9 4.6,4.9 3.5,5.9 L0,10 L5.6,10"/></g><line x1="299" y1="469" x2="299" y2="577" stroke-width="2.0"/><line x1="148" y1="503" x2="148" y2="814" stroke-width="2.0"/><line x1="158" y1="508" x2="452" y2="508" stroke-width="2.0"/><path d="M150,508 L161,505.9 L161,510.1 Z" fill="#000" stroke="none" shape-rendering="geometricPrecision"/><line x1="150" y1="508" x2="156" y2="508" stroke-width="1"/><path d="M460,508 L449,510.1 L449,505.9 Z" fill="#000" stroke="none" shape-rendering="geometricPrecision"/><line x1="454" y1="508" x2="460" y2="508" stroke-width="1"/><g transform="translate(304.6,505.6) scale(1.32) matrix(1,0,-0.29,1,0,0)" fill="none" stroke-width="1.17" stroke-linecap="round" stroke-linejoin="round" shape-rendering="geometricPrecision"><path transform="translate(-2.4,-10)" d="M0,0 L0,10 L4.8,10"/></g><line x1="72" y1="531" x2="265" y2="531" stroke-width="2.0"/><path d="M228,531 L228,544.5" stroke-width="2.0" fill="none"/><path d="M228,544 L227.88,545.17 L227.54,546.3 L226.99,547.33 L226.24,548.24 L225.33,548.99 L224.3,549.54 L223.17,549.88 L222,550" stroke-width="1.8" fill="none" shape-rendering="geometricPrecision"/><path d="M221.5,550 L101,550" stroke-width="2.0" fill="none"/><line x1="148" y1="602" x2="261" y2="602" stroke-width="2.0"/><line x1="148" y1="609" x2="261" y2="609" stroke-width="2.0"/><line x1="129" y1="665" x2="261" y2="665" stroke-width="2.0"/><path d="M101,724 L221.5,724" stroke-width="2.0" fill="none"/><path d="M222,724 L223.17,724.12 L224.3,724.46 L225.33,725.01 L226.24,725.76 L226.99,726.67 L227.54,727.7 L227.88,728.83 L228,730" stroke-width="1.8" fill="none" shape-rendering="geometricPrecision"/><path d="M228,729.5 L228,743" stroke-width="2.0" fill="none"/><line x1="72" y1="743" x2="265" y2="743" stroke-width="2.0"/><line x1="264" y1="529" x2="264" y2="744" stroke-width="2.0"/><path d="M264,571 L261,574 L261,698 L264,698" stroke-width="2.0" fill="none"/><line x1="174" y1="550" x2="174" y2="602" stroke-width="2.0"/><line x1="199" y1="550" x2="199" y2="602" stroke-width="2.0"/><line x1="169.5" y1="550" x2="169.5" y2="602" stroke-width="1.0"/><line x1="203.5" y1="550" x2="203.5" y2="602" stroke-width="1.0"/><line x1="186.5" y1="533" x2="186.5" y2="617" stroke-width="1.0" stroke-dasharray="17 1.45 1 1.45" stroke-dashoffset="19.050000000000043"/><path clip-path="url(#c13)" d="M127.5,520 L-101.5,749 M143.5,520 L-85.5,749 M158.5,520 L-70.5,749 M174.5,520 L-54.5,749 M189.5,520 L-39.5,749 M205.5,520 L-23.5,749 M220.5,520 L-8.5,749 M236.5,520 L7.5,749 M251.5,520 L22.5,749 M267.5,520 L38.5,749 M282.5,520 L53.5,749 M298.5,520 L69.5,749 M313.5,520 L84.5,749 M329.5,520 L100.5,749 M344.5,520 L115.5,749 M360.5,520 L131.5,749 M375.5,520 L146.5,749 M391.5,520 L162.5,749 M406.5,520 L177.5,749 M422.5,520 L193.5,749 M437.5,520 L208.5,749 M453.5,520 L224.5,749 M468.5,520 L239.5,749 M484.5,520 L255.5,749 M499.5,520 L270.5,749" stroke-width="1.6" fill="none"/><line x1="264" y1="538" x2="277" y2="538" stroke-width="2.0"/><path d="M277,550 L268,550 L268,567 L277,567" stroke-width="2.0" fill="none"/><line x1="264" y1="588" x2="277" y2="588" stroke-width="2.0"/><line x1="277" y1="529" x2="277" y2="707" stroke-width="2.0"/><line x1="264" y1="706.5" x2="277" y2="706.5" stroke-width="2.0"/><path d="M278,708 L268,708 L268,728 L277,728 L277,743" stroke-width="2.0" fill="none"/><line x1="264" y1="740" x2="277" y2="740" stroke-width="2.0"/><line x1="276" y1="583" x2="331" y2="583" stroke-width="2.0"/><path d="M277,574.6 Q301,570.2 330,574.2" stroke-width="1.5" fill="none"/><path clip-path="url(#c14)" d="M269.5,565 L245.5,589 M285.5,565 L261.5,589 M301.5,565 L277.5,589 M316.5,565 L292.5,589 M332.5,565 L308.5,589 M348.5,565 L324.5,589 M364.5,565 L340.5,589" stroke-width="1.6" fill="none"/><path clip-path="url(#c15)" d="M251.5,565 L275.5,589 M267.5,565 L291.5,589 M282.5,565 L306.5,589 M298.5,565 L322.5,589 M314.5,565 L338.5,589 M330.5,565 L354.5,589 M345.5,565 L369.5,589" stroke-width="1.6" fill="none"/><line x1="276" y1="692" x2="331" y2="692" stroke-width="2.0"/><line x1="276" y1="743" x2="331" y2="743" stroke-width="2.0"/><path clip-path="url(#c16)" d="M246.5,680 L177.5,749 M262.5,680 L193.5,749 M278.5,680 L209.5,749 M294.5,680 L225.5,749 M309.5,680 L240.5,749 M325.5,680 L256.5,749 M341.5,680 L272.5,749 M357.5,680 L288.5,749 M373.5,680 L304.5,749 M388.5,680 L319.5,749 M404.5,680 L335.5,749 M420.5,680 L351.5,749" stroke-width="1.6" fill="none"/><path clip-path="url(#c17)" d="M179.5,680 L248.5,749 M195.5,680 L264.5,749 M211.5,680 L280.5,749 M226.5,680 L295.5,749 M242.5,680 L311.5,749 M258.5,680 L327.5,749 M274.5,680 L343.5,749 M290.5,680 L359.5,749 M305.5,680 L374.5,749 M321.5,680 L390.5,749 M337.5,680 L406.5,749 M353.5,680 L422.5,749" stroke-width="1.6" fill="none"/><line x1="331" y1="569" x2="331" y2="744" stroke-width="2.0"/><line x1="343" y1="569" x2="343" y2="744" stroke-width="2.0"/><path d="M343,571 L347,575 L347,699 L343,699" stroke-width="2.0" fill="none"/><path d="M332,576 L339,576 L339,592 L332,592" stroke-width="2.0" fill="none"/><line x1="331" y1="596" x2="343" y2="596" stroke-width="2.0"/><line x1="331" y1="678" x2="343" y2="678" stroke-width="2.0"/><path d="M332,686 L339,686 L339,701 L332,701" stroke-width="2.0" fill="none"/><line x1="331" y1="720" x2="343" y2="720" stroke-width="2.0"/><line x1="313" y1="594" x2="313" y2="681" stroke-width="2.0"/><path d="M313,586 L315.1,597 L310.9,597 Z" fill="#000" stroke="none" shape-rendering="geometricPrecision"/><line x1="313" y1="586" x2="313" y2="592" stroke-width="1"/><path d="M313,689 L310.9,678 L315.1,678 Z" fill="#000" stroke="none" shape-rendering="geometricPrecision"/><line x1="313" y1="683" x2="313" y2="689" stroke-width="1"/><g transform="translate(310.5,619.8) rotate(-90) scale(1.32) matrix(1,0,-0.29,1,0,0)" fill="none" stroke-width="1.17" stroke-linecap="round" stroke-linejoin="round" shape-rendering="geometricPrecision"><path transform="translate(-10.75,-10) matrix(1,0,0.29,1,-2.9,0)" d="M0.87,7.63 A4.0,3.1 -45 1 1 6.53,1.97 A4.0,3.1 -45 1 1 0.87,7.63 Z M0.9,10 L6.5,-0.2"/><path transform="translate(-1.95,-10)" d="M5.1,0 L5.1,10 M5.1,6.2 C4.7,4.2 3.5,3.1 2.3,3.1 C0.8,3.1 0,4.4 0,6.4 C0,8.6 1.1,10 2.6,10 C3.8,10 4.8,9.2 5.1,8"/><path transform="translate(5.05,-10)" d="M0,3.8 L0,10 M3.8,3.8 L3.8,10 M0,6.8 L3.8,6.8"/></g><line x1="77" y1="541" x2="77" y2="733" stroke-width="2.0"/><path d="M77,533 L79.1,544 L74.9,544 Z" fill="#000" stroke="none" shape-rendering="geometricPrecision"/><line x1="77" y1="533" x2="77" y2="539" stroke-width="1"/><path d="M77,741 L74.9,730 L79.1,730 Z" fill="#000" stroke="none" shape-rendering="geometricPrecision"/><line x1="77" y1="735" x2="77" y2="741" stroke-width="1"/><g transform="translate(74.5,637) rotate(-90) scale(1.32) matrix(1,0,-0.29,1,0,0)" fill="none" stroke-width="1.17" stroke-linecap="round" stroke-linejoin="round" shape-rendering="geometricPrecision"><path transform="translate(-10.95,-10) matrix(1,0,0.29,1,-2.9,0)" d="M0.87,7.63 A4.0,3.1 -45 1 1 6.53,1.97 A4.0,3.1 -45 1 1 0.87,7.63 Z M0.9,10 L6.5,-0.2"/><path transform="translate(-2.15,-10)" d="M0,0 L0,10 L2.3,10 C4.6,10 5.7,8.2 5.7,5 C5.7,1.8 4.6,0 2.3,0 Z"/><path transform="translate(5.25,-10)" d="M0,3.8 L0,10 M3.8,3.8 L3.8,10 M0,6.8 L3.8,6.8"/></g><line x1="107" y1="560" x2="107" y2="714" stroke-width="2.0"/><path d="M107,552 L109.1,563 L104.9,563 Z" fill="#000" stroke="none" shape-rendering="geometricPrecision"/><line x1="107" y1="552" x2="107" y2="558" stroke-width="1"/><path d="M107,722 L104.9,711 L109.1,711 Z" fill="#000" stroke="none" shape-rendering="geometricPrecision"/><line x1="107" y1="716" x2="107" y2="722" stroke-width="1"/><g transform="translate(104.5,637) rotate(-90) scale(1.32) matrix(1,0,-0.29,1,0,0)" fill="none" stroke-width="1.17" stroke-linecap="round" stroke-linejoin="round" shape-rendering="geometricPrecision"><path transform="translate(-8.49,-10) matrix(1,0,0.29,1,-2.9,0)" d="M0.87,7.63 A4.0,3.1 -45 1 1 6.53,1.97 A4.0,3.1 -45 1 1 0.87,7.63 Z M0.9,10 L6.5,-0.2"/><path transform="translate(0.31,-10)" d="M0,0 L0,10 L2.3,10 C4.6,10 5.7,8.2 5.7,5 C5.7,1.8 4.6,0 2.3,0 Z"/></g><line x1="134" y1="619" x2="134" y2="655" stroke-width="2.0"/><path d="M134,611 L136.1,622 L131.9,622 Z" fill="#000" stroke="none" shape-rendering="geometricPrecision"/><line x1="134" y1="611" x2="134" y2="617" stroke-width="1"/><path d="M134,663 L131.9,652 L136.1,652 Z" fill="#000" stroke="none" shape-rendering="geometricPrecision"/><line x1="134" y1="657" x2="134" y2="663" stroke-width="1"/><line x1="129" y1="609" x2="148" y2="609" stroke-width="2.0"/><g transform="translate(131.8,637) rotate(-90) scale(1.32) matrix(1,0,-0.29,1,0,0)" fill="none" stroke-width="1.17" stroke-linecap="round" stroke-linejoin="round" shape-rendering="geometricPrecision"><path transform="translate(-8.45,-10) matrix(1,0,0.29,1,-2.9,0)" d="M0.87,7.63 A4.0,3.1 -45 1 1 6.53,1.97 A4.0,3.1 -45 1 1 0.87,7.63 Z M0.9,10 L6.5,-0.2"/><path transform="translate(0.35,-10)" d="M5.1,0 L5.1,10 M5.1,6.2 C4.7,4.2 3.5,3.1 2.3,3.1 C0.8,3.1 0,4.4 0,6.4 C0,8.6 1.1,10 2.6,10 C3.8,10 4.8,9.2 5.1,8"/></g><line x1="228" y1="745" x2="228" y2="783" stroke-width="2.0"/><line x1="277" y1="745" x2="277" y2="783" stroke-width="2.0"/><line x1="331" y1="745" x2="331" y2="783" stroke-width="2.0"/><line x1="264" y1="745" x2="264" y2="814" stroke-width="2.0"/><line x1="343" y1="745" x2="343" y2="814" stroke-width="2.0"/><line x1="158" y1="777" x2="218" y2="777" stroke-width="2.0"/><path d="M150,777 L161,774.9 L161,779.1 Z" fill="#000" stroke="none" shape-rendering="geometricPrecision"/><line x1="150" y1="777" x2="156" y2="777" stroke-width="1"/><path d="M226,777 L215,779.1 L215,774.9 Z" fill="#000" stroke="none" shape-rendering="geometricPrecision"/><line x1="220" y1="777" x2="226" y2="777" stroke-width="1"/><g transform="translate(188.3,774.4) scale(1.32) matrix(1,0,-0.29,1,0,0)" fill="none" stroke-width="1.17" stroke-linecap="round" stroke-linejoin="round" shape-rendering="geometricPrecision"><path transform="translate(-4.3,-10)" d="M0,10 L0,0 L5.7,10 L5.7,0"/></g><line x1="239" y1="777" x2="254" y2="777" stroke-width="2.0"/><path d="M262,777 L251,779.1 L251,774.9 Z" fill="#000" stroke="none" shape-rendering="geometricPrecision"/><line x1="256" y1="777" x2="262" y2="777" stroke-width="1"/><line x1="264" y1="777" x2="277" y2="777" stroke-width="2.0"/><g transform="translate(270.5,774.4) scale(1.32) matrix(1,0,-0.29,1,0,0)" fill="none" stroke-width="1.17" stroke-linecap="round" stroke-linejoin="round" shape-rendering="geometricPrecision"><path transform="translate(-3.83,-10)" d="M4.6,1.9 C4.4,0.6 3.5,0 2.4,0 C1,0 0.2,1 0.2,2.5 C0.2,4 1.3,4.6 2.5,5 C3.8,5.4 4.8,6.1 4.8,7.6 C4.8,9.2 3.8,10 2.4,10 C1.2,10 0.3,9.2 0,7.9"/></g><line x1="287" y1="777" x2="321" y2="777" stroke-width="2.0"/><path d="M279,777 L290,774.9 L290,779.1 Z" fill="#000" stroke="none" shape-rendering="geometricPrecision"/><line x1="279" y1="777" x2="285" y2="777" stroke-width="1"/><path d="M329,777 L318,779.1 L318,774.9 Z" fill="#000" stroke="none" shape-rendering="geometricPrecision"/><line x1="323" y1="777" x2="329" y2="777" stroke-width="1"/><g transform="translate(304,774.4) scale(1.32) matrix(1,0,-0.29,1,0,0)" fill="none" stroke-width="1.17" stroke-linecap="round" stroke-linejoin="round" shape-rendering="geometricPrecision"><path transform="translate(-4.01,-10)" d="M0.9,0 L0.9,10 M0.9,6.2 C1.3,4.2 2.4,3.1 3.4,3.1 C4.8,3.1 5.5,4.4 5.5,6.4 C5.5,8.6 4.5,10 3.2,10 C2.1,10 1.2,9.2 0.9,8"/></g><line x1="331" y1="777" x2="343" y2="777" stroke-width="2.0"/><g transform="translate(337.1,774.4) scale(1.32) matrix(1,0,-0.29,1,0,0)" fill="none" stroke-width="1.17" stroke-linecap="round" stroke-linejoin="round" shape-rendering="geometricPrecision"><path transform="translate(-3.83,-10)" d="M4.6,1.9 C4.4,0.6 3.5,0 2.4,0 C1,0 0.2,1 0.2,2.5 C0.2,4 1.3,4.6 2.5,5 C3.8,5.4 4.8,6.1 4.8,7.6 C4.8,9.2 3.8,10 2.4,10 C1.2,10 0.3,9.2 0,7.9"/></g><line x1="367" y1="777" x2="353" y2="777" stroke-width="2.0"/><path d="M345,777 L356,774.9 L356,779.1 Z" fill="#000" stroke="none" shape-rendering="geometricPrecision"/><line x1="351" y1="777" x2="345" y2="777" stroke-width="1"/><line x1="158" y1="809" x2="254" y2="809" stroke-width="2.0"/><path d="M150,809 L161,806.9 L161,811.1 Z" fill="#000" stroke="none" shape-rendering="geometricPrecision"/><line x1="150" y1="809" x2="156" y2="809" stroke-width="1"/><path d="M262,809 L251,811.1 L251,806.9 Z" fill="#000" stroke="none" shape-rendering="geometricPrecision"/><line x1="256" y1="809" x2="262" y2="809" stroke-width="1"/><g transform="translate(206.5,805.7) scale(1.32) matrix(1,0,-0.29,1,0,0)" fill="none" stroke-width="1.17" stroke-linecap="round" stroke-linejoin="round" shape-rendering="geometricPrecision"><path transform="translate(-4.5,-10)" d="M0,10 L0,0"/><path transform="translate(-1.5,-10)" d="M0.2,2.6 L3.1,0 L3.1,10"/></g><line x1="274" y1="809" x2="333" y2="809" stroke-width="2.0"/><path d="M266,809 L277,806.9 L277,811.1 Z" fill="#000" stroke="none" shape-rendering="geometricPrecision"/><line x1="266" y1="809" x2="272" y2="809" stroke-width="1"/><path d="M341,809 L330,811.1 L330,806.9 Z" fill="#000" stroke="none" shape-rendering="geometricPrecision"/><line x1="335" y1="809" x2="341" y2="809" stroke-width="1"/><g transform="translate(303.6,805.7) scale(1.32) matrix(1,0,-0.29,1,0,0)" fill="none" stroke-width="1.17" stroke-linecap="round" stroke-linejoin="round" shape-rendering="geometricPrecision"><path transform="translate(-3.75,-10)" d="M4.6,0 L0,0 L0,10 L4.6,10 M0,5 L3.9,5"/></g><line x1="353" y1="809" x2="452" y2="809" stroke-width="2.0"/><path d="M345,809 L356,806.9 L356,811.1 Z" fill="#000" stroke="none" shape-rendering="geometricPrecision"/><line x1="345" y1="809" x2="351" y2="809" stroke-width="1"/><path d="M460,809 L449,811.1 L449,806.9 Z" fill="#000" stroke="none" shape-rendering="geometricPrecision"/><line x1="454" y1="809" x2="460" y2="809" stroke-width="1"/><g transform="translate(401.6,805.7) scale(1.32) matrix(1,0,-0.29,1,0,0)" fill="none" stroke-width="1.17" stroke-linecap="round" stroke-linejoin="round" shape-rendering="geometricPrecision"><path transform="translate(-4.5,-10)" d="M0,10 L0,0"/><path transform="translate(-1.5,-10)" d="M0.2,2.6 L3.1,0 L3.1,10"/></g><path d="M276,533 L278,531 L530,531" stroke-width="2.0" fill="none"/><path d="M381,531 L381,544 L387,550 L462,550" stroke-width="2.0" fill="none"/><line x1="276" y1="570" x2="344" y2="570" stroke-width="2.0"/><line x1="347" y1="592" x2="499" y2="592" stroke-width="2.0"/><line x1="347" y1="681" x2="462" y2="681" stroke-width="2.0"/><line x1="347" y1="689" x2="462" y2="689" stroke-width="2.0"/><path d="M462,724 L386.5,724" stroke-width="2.0" fill="none"/><path d="M381,730 L381.12,728.83 L381.46,727.7 L382.01,726.67 L382.76,725.76 L383.67,725.01 L384.7,724.46 L385.83,724.12 L387,724" stroke-width="1.8" fill="none" shape-rendering="geometricPrecision"/><path d="M381,730.5 L381,743" stroke-width="2.0" fill="none"/><line x1="343" y1="743" x2="530" y2="743" stroke-width="2.0"/><line x1="462" y1="503" x2="462" y2="814" stroke-width="2.0"/><line x1="412" y1="689" x2="412" y2="724" stroke-width="2.0"/><line x1="436" y1="689" x2="436" y2="724" stroke-width="2.0"/><line x1="406.5" y1="689" x2="406.5" y2="724" stroke-width="1.0"/><line x1="440.5" y1="689" x2="440.5" y2="724" stroke-width="1.0"/><line x1="423.5" y1="674" x2="423.5" y2="735" stroke-width="1.0" stroke-dasharray="17 1.45 1 1.45" stroke-dashoffset="0"/><path clip-path="url(#c18)" d="M28.5,523 L257.5,752 M43.5,523 L272.5,752 M59.5,523 L288.5,752 M75.5,523 L304.5,752 M90.5,523 L319.5,752 M106.5,523 L335.5,752 M121.5,523 L350.5,752 M137.5,523 L366.5,752 M152.5,523 L381.5,752 M168.5,523 L397.5,752 M183.5,523 L412.5,752 M199.5,523 L428.5,752 M215.5,523 L444.5,752 M230.5,523 L459.5,752 M246.5,523 L475.5,752 M261.5,523 L490.5,752 M277.5,523 L506.5,752 M292.5,523 L521.5,752 M308.5,523 L537.5,752 M323.5,523 L552.5,752 M339.5,523 L568.5,752 M354.5,523 L583.5,752 M370.5,523 L599.5,752 M386.5,523 L615.5,752 M401.5,523 L630.5,752 M417.5,523 L646.5,752 M432.5,523 L661.5,752 M448.5,523 L677.5,752 M463.5,523 L692.5,752 M479.5,523 L708.5,752" stroke-width="1.6" fill="none"/><path d="M408,450 L436,450 L436,469 L408,469 Z" stroke-width="2.0" fill="none"/><g transform="translate(422,467.2) scale(1.32) matrix(1,0,-0.29,1,0,0)" fill="none" stroke-width="1.17" stroke-linecap="round" stroke-linejoin="round" shape-rendering="geometricPrecision"><path transform="translate(-4.17,-10)" d="M0.2,2.6 L3.1,0 L3.1,10"/></g><line x1="422" y1="469" x2="422" y2="566" stroke-width="2.0"/><line x1="139" y1="636.5" x2="469" y2="636.5" stroke-width="1.0" stroke-dasharray="17 1.45 1 1.45" stroke-dashoffset="1.7499999999999858"/><line x1="495" y1="674" x2="495" y2="602" stroke-width="2.0"/><path d="M495,594 L497.1,605 L492.9,605 Z" fill="#000" stroke="none" shape-rendering="geometricPrecision"/><line x1="495" y1="600" x2="495" y2="594" stroke-width="1"/><g transform="translate(492.5,636.5) rotate(-90) scale(1.32) matrix(1,0,-0.29,1,0,0)" fill="none" stroke-width="1.17" stroke-linecap="round" stroke-linejoin="round" shape-rendering="geometricPrecision"><path transform="translate(-8.45,-10) matrix(1,0,0.29,1,-2.9,0)" d="M0.87,7.63 A4.0,3.1 -45 1 1 6.53,1.97 A4.0,3.1 -45 1 1 0.87,7.63 Z M0.9,10 L6.5,-0.2"/><path transform="translate(0.35,-10)" d="M5.1,0 L5.1,10 M5.1,6.2 C4.7,4.2 3.5,3.1 2.3,3.1 C0.8,3.1 0,4.4 0,6.4 C0,8.6 1.1,10 2.6,10 C3.8,10 4.8,9.2 5.1,8"/></g><line x1="525.5" y1="541" x2="525.5" y2="733" stroke-width="2.0"/><path d="M525.5,533 L527.6,544 L523.4,544 Z" fill="#000" stroke="none" shape-rendering="geometricPrecision"/><line x1="525.5" y1="533" x2="525.5" y2="539" stroke-width="1"/><path d="M525.5,741 L523.4,730 L527.6,730 Z" fill="#000" stroke="none" shape-rendering="geometricPrecision"/><line x1="525.5" y1="735" x2="525.5" y2="741" stroke-width="1"/><g transform="translate(523,636.5) rotate(-90) scale(1.32) matrix(1,0,-0.29,1,0,0)" fill="none" stroke-width="1.17" stroke-linecap="round" stroke-linejoin="round" shape-rendering="geometricPrecision"><path transform="translate(-10.95,-10) matrix(1,0,0.29,1,-2.9,0)" d="M0.87,7.63 A4.0,3.1 -45 1 1 6.53,1.97 A4.0,3.1 -45 1 1 0.87,7.63 Z M0.9,10 L6.5,-0.2"/><path transform="translate(-2.15,-10)" d="M0,0 L0,10 L2.3,10 C4.6,10 5.7,8.2 5.7,5 C5.7,1.8 4.6,0 2.3,0 Z"/><path transform="translate(5.25,-10)" d="M0,3.8 L0,10 M3.8,3.8 L3.8,10 M0,6.8 L3.8,6.8"/></g><line x1="759" y1="538" x2="772" y2="538" stroke-width="2.0"/><path d="M772,550 L763,550 L763,567 L772,567" stroke-width="2.0" fill="none"/><line x1="759" y1="588" x2="772" y2="588" stroke-width="2.0"/><line x1="772" y1="529" x2="772" y2="707" stroke-width="2.0"/><line x1="759" y1="706.5" x2="772" y2="706.5" stroke-width="2.0"/><path d="M773,708 L763,708 L763,728 L772,728 L772,743" stroke-width="2.0" fill="none"/><line x1="759" y1="740" x2="772" y2="740" stroke-width="2.0"/><line x1="771" y1="583" x2="826" y2="583" stroke-width="2.0"/><path d="M772,574.6 Q796,570.2 825,574.2" stroke-width="1.5" fill="none"/><path clip-path="url(#c19)" d="M764.5,565 L740.5,589 M780.5,565 L756.5,589 M796.5,565 L772.5,589 M811.5,565 L787.5,589 M827.5,565 L803.5,589 M843.5,565 L819.5,589 M859.5,565 L835.5,589" stroke-width="1.6" fill="none"/><path clip-path="url(#c20)" d="M746.5,565 L770.5,589 M762.5,565 L786.5,589 M777.5,565 L801.5,589 M793.5,565 L817.5,589 M809.5,565 L833.5,589 M825.5,565 L849.5,589 M840.5,565 L864.5,589" stroke-width="1.6" fill="none"/><line x1="771" y1="692" x2="826" y2="692" stroke-width="2.0"/><line x1="771" y1="743" x2="826" y2="743" stroke-width="2.0"/><path clip-path="url(#c21)" d="M741.5,680 L672.5,749 M757.5,680 L688.5,749 M773.5,680 L704.5,749 M789.5,680 L720.5,749 M804.5,680 L735.5,749 M820.5,680 L751.5,749 M836.5,680 L767.5,749 M852.5,680 L783.5,749 M868.5,680 L799.5,749 M883.5,680 L814.5,749 M899.5,680 L830.5,749 M915.5,680 L846.5,749" stroke-width="1.6" fill="none"/><path clip-path="url(#c22)" d="M674.5,680 L743.5,749 M690.5,680 L759.5,749 M706.5,680 L775.5,749 M721.5,680 L790.5,749 M737.5,680 L806.5,749 M753.5,680 L822.5,749 M769.5,680 L838.5,749 M785.5,680 L854.5,749 M800.5,680 L869.5,749 M816.5,680 L885.5,749 M832.5,680 L901.5,749 M848.5,680 L917.5,749" stroke-width="1.6" fill="none"/><line x1="826" y1="569" x2="826" y2="744" stroke-width="2.0"/><line x1="838" y1="569" x2="838" y2="744" stroke-width="2.0"/><path d="M838,571 L842,575 L842,699 L838,699" stroke-width="2.0" fill="none"/><path d="M827,576 L834,576 L834,592 L827,592" stroke-width="2.0" fill="none"/><line x1="826" y1="596" x2="838" y2="596" stroke-width="2.0"/><line x1="826" y1="678" x2="838" y2="678" stroke-width="2.0"/><path d="M827,686 L834,686 L834,701 L827,701" stroke-width="2.0" fill="none"/><line x1="826" y1="720" x2="838" y2="720" stroke-width="2.0"/><path d="M772,534 L772.6,532.4 L773.6,531.4 L775,531 L866,531 L866,535 L1017,535" stroke-width="2.0" fill="none"/><line x1="771" y1="570" x2="839" y2="570" stroke-width="2.0"/><line x1="842" y1="583" x2="955" y2="583" stroke-width="2.0"/><line x1="842" y1="597" x2="955" y2="597" stroke-width="2.0"/><line x1="842" y1="677" x2="991" y2="677" stroke-width="2.0"/><line x1="866" y1="738" x2="1017" y2="738" stroke-width="2.0"/><line x1="866" y1="738" x2="866" y2="744" stroke-width="2.0"/><line x1="838" y1="743" x2="867" y2="743" stroke-width="2.0"/><line x1="904" y1="677" x2="904" y2="738" stroke-width="2.0"/><line x1="928" y1="677" x2="928" y2="738" stroke-width="2.0"/><line x1="898.5" y1="677" x2="898.5" y2="738" stroke-width="1.0"/><line x1="932.5" y1="677" x2="932.5" y2="738" stroke-width="1.0"/><line x1="915.5" y1="672" x2="915.5" y2="747" stroke-width="1.0" stroke-dasharray="17 1.45 1 1.45" stroke-dashoffset="0"/><path clip-path="url(#c23)" d="M537.5,520 L766.5,749 M552.5,520 L781.5,749 M568.5,520 L797.5,749 M584.5,520 L813.5,749 M599.5,520 L828.5,749 M615.5,520 L844.5,749 M630.5,520 L859.5,749 M646.5,520 L875.5,749 M661.5,520 L890.5,749 M677.5,520 L906.5,749 M692.5,520 L921.5,749 M708.5,520 L937.5,749 M723.5,520 L952.5,749 M739.5,520 L968.5,749 M755.5,520 L984.5,749 M770.5,520 L999.5,749 M786.5,520 L1015.5,749 M801.5,520 L1030.5,749 M817.5,520 L1046.5,749 M832.5,520 L1061.5,749 M848.5,520 L1077.5,749 M863.5,520 L1092.5,749 M879.5,520 L1108.5,749 M895.5,520 L1124.5,749 M910.5,520 L1139.5,749 M926.5,520 L1155.5,749 M941.5,520 L1170.5,749 M957.5,520 L1186.5,749 M972.5,520 L1201.5,749" stroke-width="1.6" fill="none"/><line x1="808" y1="594" x2="808" y2="681" stroke-width="2.0"/><path d="M808,586 L810.1,597 L805.9,597 Z" fill="#000" stroke="none" shape-rendering="geometricPrecision"/><line x1="808" y1="586" x2="808" y2="592" stroke-width="1"/><path d="M808,689 L805.9,678 L810.1,678 Z" fill="#000" stroke="none" shape-rendering="geometricPrecision"/><line x1="808" y1="683" x2="808" y2="689" stroke-width="1"/><g transform="translate(805.5,619.8) rotate(-90) scale(1.32) matrix(1,0,-0.29,1,0,0)" fill="none" stroke-width="1.17" stroke-linecap="round" stroke-linejoin="round" shape-rendering="geometricPrecision"><path transform="translate(-10.75,-10) matrix(1,0,0.29,1,-2.9,0)" d="M0.87,7.63 A4.0,3.1 -45 1 1 6.53,1.97 A4.0,3.1 -45 1 1 0.87,7.63 Z M0.9,10 L6.5,-0.2"/><path transform="translate(-1.95,-10)" d="M5.1,0 L5.1,10 M5.1,6.2 C4.7,4.2 3.5,3.1 2.3,3.1 C0.8,3.1 0,4.4 0,6.4 C0,8.6 1.1,10 2.6,10 C3.8,10 4.8,9.2 5.1,8"/><path transform="translate(5.05,-10)" d="M0,3.8 L0,10 M3.8,3.8 L3.8,10 M0,6.8 L3.8,6.8"/></g><line x1="772" y1="745" x2="772" y2="783" stroke-width="2.0"/><line x1="826" y1="745" x2="826" y2="783" stroke-width="2.0"/><line x1="838" y1="745" x2="838" y2="814" stroke-width="2.0"/><line x1="759" y1="777" x2="772" y2="777" stroke-width="2.0"/><g transform="translate(765.5,774.4) scale(1.32) matrix(1,0,-0.29,1,0,0)" fill="none" stroke-width="1.17" stroke-linecap="round" stroke-linejoin="round" shape-rendering="geometricPrecision"><path transform="translate(-3.83,-10)" d="M4.6,1.9 C4.4,0.6 3.5,0 2.4,0 C1,0 0.2,1 0.2,2.5 C0.2,4 1.3,4.6 2.5,5 C3.8,5.4 4.8,6.1 4.8,7.6 C4.8,9.2 3.8,10 2.4,10 C1.2,10 0.3,9.2 0,7.9"/></g><line x1="782" y1="777" x2="816" y2="777" stroke-width="2.0"/><path d="M774,777 L785,774.9 L785,779.1 Z" fill="#000" stroke="none" shape-rendering="geometricPrecision"/><line x1="774" y1="777" x2="780" y2="777" stroke-width="1"/><path d="M824,777 L813,779.1 L813,774.9 Z" fill="#000" stroke="none" shape-rendering="geometricPrecision"/><line x1="818" y1="777" x2="824" y2="777" stroke-width="1"/><g transform="translate(799,774.4) scale(1.32) matrix(1,0,-0.29,1,0,0)" fill="none" stroke-width="1.17" stroke-linecap="round" stroke-linejoin="round" shape-rendering="geometricPrecision"><path transform="translate(-4.01,-10)" d="M0.9,0 L0.9,10 M0.9,6.2 C1.3,4.2 2.4,3.1 3.4,3.1 C4.8,3.1 5.5,4.4 5.5,6.4 C5.5,8.6 4.5,10 3.2,10 C2.1,10 1.2,9.2 0.9,8"/></g><line x1="826" y1="777" x2="838" y2="777" stroke-width="2.0"/><g transform="translate(832.1,774.4) scale(1.32) matrix(1,0,-0.29,1,0,0)" fill="none" stroke-width="1.17" stroke-linecap="round" stroke-linejoin="round" shape-rendering="geometricPrecision"><path transform="translate(-3.83,-10)" d="M4.6,1.9 C4.4,0.6 3.5,0 2.4,0 C1,0 0.2,1 0.2,2.5 C0.2,4 1.3,4.6 2.5,5 C3.8,5.4 4.8,6.1 4.8,7.6 C4.8,9.2 3.8,10 2.4,10 C1.2,10 0.3,9.2 0,7.9"/></g><line x1="862" y1="777" x2="848" y2="777" stroke-width="2.0"/><path d="M840,777 L851,774.9 L851,779.1 Z" fill="#000" stroke="none" shape-rendering="geometricPrecision"/><line x1="846" y1="777" x2="840" y2="777" stroke-width="1"/><line x1="769" y1="809" x2="828" y2="809" stroke-width="2.0"/><path d="M761,809 L772,806.9 L772,811.1 Z" fill="#000" stroke="none" shape-rendering="geometricPrecision"/><line x1="761" y1="809" x2="767" y2="809" stroke-width="1"/><path d="M836,809 L825,811.1 L825,806.9 Z" fill="#000" stroke="none" shape-rendering="geometricPrecision"/><line x1="830" y1="809" x2="836" y2="809" stroke-width="1"/><g transform="translate(798.6,805.7) scale(1.32) matrix(1,0,-0.29,1,0,0)" fill="none" stroke-width="1.17" stroke-linecap="round" stroke-linejoin="round" shape-rendering="geometricPrecision"><path transform="translate(-3.75,-10)" d="M4.6,0 L0,0 L0,10 L4.6,10 M0,5 L3.9,5"/></g><line x1="848" y1="809" x2="945" y2="809" stroke-width="2.0"/><path d="M840,809 L851,806.9 L851,811.1 Z" fill="#000" stroke="none" shape-rendering="geometricPrecision"/><line x1="840" y1="809" x2="846" y2="809" stroke-width="1"/><path d="M953,809 L942,811.1 L942,806.9 Z" fill="#000" stroke="none" shape-rendering="geometricPrecision"/><line x1="947" y1="809" x2="953" y2="809" stroke-width="1"/><g transform="translate(896.6,805.7) scale(1.32) matrix(1,0,-0.29,1,0,0)" fill="none" stroke-width="1.17" stroke-linecap="round" stroke-linejoin="round" shape-rendering="geometricPrecision"><path transform="translate(-5.55,-10)" d="M0,10 L0,0"/><path transform="translate(-2.55,-10)" d="M0.3,2.5 C0.5,0.9 1.7,0 3,0 C4.5,0 5.5,1 5.5,2.5 C5.5,3.9 4.6,4.9 3.5,5.9 L0,10 L5.6,10"/></g><line x1="955" y1="503" x2="955" y2="814" stroke-width="2.0"/><line x1="597" y1="531" x2="760" y2="531" stroke-width="2.0"/><path d="M643,536 L645,534 L724,534 L724,531" stroke-width="2.0" fill="none"/><line x1="643" y1="500" x2="643" y2="814" stroke-width="2.0"/><line x1="643" y1="602" x2="756" y2="602" stroke-width="2.0"/><line x1="643" y1="609" x2="756" y2="609" stroke-width="2.0"/><line x1="625" y1="665" x2="756" y2="665" stroke-width="2.0"/><line x1="759" y1="530" x2="759" y2="744" stroke-width="2.0"/><path d="M759,572 L756,575 L756,698 L759,698" stroke-width="2.0" fill="none"/><path d="M643,739.5 L723,739.5" stroke-width="1.5" fill="none"/><line x1="723" y1="739" x2="723" y2="784" stroke-width="2.0"/><line x1="597" y1="743" x2="760" y2="743" stroke-width="2.0"/><line x1="669" y1="534" x2="669" y2="602" stroke-width="2.0"/><line x1="694" y1="534" x2="694" y2="602" stroke-width="2.0"/><line x1="664.5" y1="534" x2="664.5" y2="602" stroke-width="1.0"/><line x1="699.5" y1="534" x2="699.5" y2="602" stroke-width="1.0"/><line x1="681.5" y1="524" x2="681.5" y2="616" stroke-width="1.0" stroke-dasharray="17 1.45 1 1.45" stroke-dashoffset="0"/><path clip-path="url(#c24)" d="M623.5,523 L394.5,752 M639.5,523 L410.5,752 M655.5,523 L426.5,752 M670.5,523 L441.5,752 M686.5,523 L457.5,752 M702.5,523 L473.5,752 M717.5,523 L488.5,752 M733.5,523 L504.5,752 M749.5,523 L520.5,752 M765.5,523 L536.5,752 M780.5,523 L551.5,752 M796.5,523 L567.5,752 M812.5,523 L583.5,752 M827.5,523 L598.5,752 M843.5,523 L614.5,752 M859.5,523 L630.5,752 M874.5,523 L645.5,752 M890.5,523 L661.5,752 M906.5,523 L677.5,752 M922.5,523 L693.5,752 M937.5,523 L708.5,752 M953.5,523 L724.5,752 M969.5,523 L740.5,752 M984.5,523 L755.5,752 M1000.5,523 L771.5,752" stroke-width="1.6" fill="none"/><path d="M704,450 L732,450 L732,469 L704,469 Z" stroke-width="2.0" fill="none"/><g transform="translate(718,467.2) scale(1.32) matrix(1,0,-0.29,1,0,0)" fill="none" stroke-width="1.17" stroke-linecap="round" stroke-linejoin="round" shape-rendering="geometricPrecision"><path transform="translate(-7,-10)" d="M0.2,2.6 L3.1,0 L3.1,10"/><path transform="translate(-1.5,-10)" d="M4.3,3.6 L4.3,9.3 L4.8,10 M4.3,6.4 C4,4.6 3.1,3.6 2.1,3.6 C0.8,3.6 0,4.8 0,6.7 C0,8.7 0.9,10 2.2,10 C3.3,10 4.1,9.3 4.3,8.2"/></g><line x1="718" y1="469" x2="718" y2="566" stroke-width="2.0"/><path d="M766,450 L794,450 L794,469 L766,469 Z" stroke-width="2.0" fill="none"/><g transform="translate(780,467.2) scale(1.32) matrix(1,0,-0.29,1,0,0)" fill="none" stroke-width="1.17" stroke-linecap="round" stroke-linejoin="round" shape-rendering="geometricPrecision"><path transform="translate(-4.05,-10)" d="M0.3,2.5 C0.5,0.9 1.7,0 3,0 C4.5,0 5.5,1 5.5,2.5 C5.5,3.9 4.6,4.9 3.5,5.9 L0,10 L5.6,10"/></g><line x1="780" y1="469" x2="780" y2="577" stroke-width="2.0"/><path d="M911,450 L941,450 L941,469 L911,469 Z" stroke-width="2.0" fill="none"/><g transform="translate(926,467.2) scale(1.32) matrix(1,0,-0.29,1,0,0)" fill="none" stroke-width="1.17" stroke-linecap="round" stroke-linejoin="round" shape-rendering="geometricPrecision"><path transform="translate(-7,-10)" d="M0.2,2.6 L3.1,0 L3.1,10"/><path transform="translate(-1.5,-10)" d="M4.3,3.6 L4.3,9.3 L4.8,10 M4.3,6.4 C4,4.6 3.1,3.6 2.1,3.6 C0.8,3.6 0,4.8 0,6.7 C0,8.7 0.9,10 2.2,10 C3.3,10 4.1,9.3 4.3,8.2"/></g><line x1="926" y1="469" x2="926" y2="566" stroke-width="2.0"/><line x1="653" y1="505" x2="945" y2="505" stroke-width="2.0"/><path d="M645,505 L656,502.9 L656,507.1 Z" fill="#000" stroke="none" shape-rendering="geometricPrecision"/><line x1="645" y1="505" x2="651" y2="505" stroke-width="1"/><path d="M953,505 L942,507.1 L942,502.9 Z" fill="#000" stroke="none" shape-rendering="geometricPrecision"/><line x1="947" y1="505" x2="953" y2="505" stroke-width="1"/><g transform="translate(799,502.6) scale(1.32) matrix(1,0,-0.29,1,0,0)" fill="none" stroke-width="1.17" stroke-linecap="round" stroke-linejoin="round" shape-rendering="geometricPrecision"><path transform="translate(-2.4,-10)" d="M0,0 L0,10 L4.8,10"/></g><line x1="634" y1="636.5" x2="963" y2="636.5" stroke-width="1.0" stroke-dasharray="17 1.45 1 1.45" stroke-dashoffset="0"/><line x1="986" y1="603" x2="986" y2="667" stroke-width="2.0"/><path d="M986,675 L983.9,664 L988.1,664 Z" fill="#000" stroke="none" shape-rendering="geometricPrecision"/><line x1="986" y1="669" x2="986" y2="675" stroke-width="1"/><g transform="translate(983.5,634) rotate(-90) scale(1.32) matrix(1,0,-0.29,1,0,0)" fill="none" stroke-width="1.17" stroke-linecap="round" stroke-linejoin="round" shape-rendering="geometricPrecision"><path transform="translate(-8.45,-10) matrix(1,0,0.29,1,-2.9,0)" d="M0.87,7.63 A4.0,3.1 -45 1 1 6.53,1.97 A4.0,3.1 -45 1 1 0.87,7.63 Z M0.9,10 L6.5,-0.2"/><path transform="translate(0.35,-10)" d="M5.1,0 L5.1,10 M5.1,6.2 C4.7,4.2 3.5,3.1 2.3,3.1 C0.8,3.1 0,4.4 0,6.4 C0,8.6 1.1,10 2.6,10 C3.8,10 4.8,9.2 5.1,8"/></g><line x1="1012" y1="545" x2="1012" y2="728" stroke-width="2.0"/><path d="M1012,537 L1014.1,548 L1009.9,548 Z" fill="#000" stroke="none" shape-rendering="geometricPrecision"/><line x1="1012" y1="537" x2="1012" y2="543" stroke-width="1"/><path d="M1012,736 L1009.9,725 L1014.1,725 Z" fill="#000" stroke="none" shape-rendering="geometricPrecision"/><line x1="1012" y1="730" x2="1012" y2="736" stroke-width="1"/><g transform="translate(1009.5,637) rotate(-90) scale(1.32) matrix(1,0,-0.29,1,0,0)" fill="none" stroke-width="1.17" stroke-linecap="round" stroke-linejoin="round" shape-rendering="geometricPrecision"><path transform="translate(-9.94,-10) matrix(1,0,0.29,1,-2.9,0)" d="M0.87,7.63 A4.0,3.1 -45 1 1 6.53,1.97 A4.0,3.1 -45 1 1 0.87,7.63 Z M0.9,10 L6.5,-0.2"/><path transform="translate(-1.14,-10)" d="M0,0 L0,10 L2.3,10 C4.6,10 5.7,8.2 5.7,5 C5.7,1.8 4.6,0 2.3,0 Z"/><path transform="translate(6.26,-10)" d="M0,5.8 L1.9,4.2 L1.9,11"/></g><line x1="602" y1="541" x2="602" y2="733" stroke-width="2.0"/><path d="M602,533 L604.1,544 L599.9,544 Z" fill="#000" stroke="none" shape-rendering="geometricPrecision"/><line x1="602" y1="533" x2="602" y2="539" stroke-width="1"/><path d="M602,741 L599.9,730 L604.1,730 Z" fill="#000" stroke="none" shape-rendering="geometricPrecision"/><line x1="602" y1="735" x2="602" y2="741" stroke-width="1"/><g transform="translate(599.5,636) rotate(-90) scale(1.32) matrix(1,0,-0.29,1,0,0)" fill="none" stroke-width="1.17" stroke-linecap="round" stroke-linejoin="round" shape-rendering="geometricPrecision"><path transform="translate(-10.95,-10) matrix(1,0,0.29,1,-2.9,0)" d="M0.87,7.63 A4.0,3.1 -45 1 1 6.53,1.97 A4.0,3.1 -45 1 1 0.87,7.63 Z M0.9,10 L6.5,-0.2"/><path transform="translate(-2.15,-10)" d="M0,0 L0,10 L2.3,10 C4.6,10 5.7,8.2 5.7,5 C5.7,1.8 4.6,0 2.3,0 Z"/><path transform="translate(5.25,-10)" d="M0,3.8 L0,10 M3.8,3.8 L3.8,10 M0,6.8 L3.8,6.8"/></g><line x1="629" y1="620" x2="629" y2="655" stroke-width="2.0"/><path d="M629,663 L626.9,652 L631.1,652 Z" fill="#000" stroke="none" shape-rendering="geometricPrecision"/><line x1="629" y1="657" x2="629" y2="663" stroke-width="1"/><g transform="translate(626.5,636) rotate(-90) scale(1.32) matrix(1,0,-0.29,1,0,0)" fill="none" stroke-width="1.17" stroke-linecap="round" stroke-linejoin="round" shape-rendering="geometricPrecision"><path transform="translate(-8.45,-10) matrix(1,0,0.29,1,-2.9,0)" d="M0.87,7.63 A4.0,3.1 -45 1 1 6.53,1.97 A4.0,3.1 -45 1 1 0.87,7.63 Z M0.9,10 L6.5,-0.2"/><path transform="translate(0.35,-10)" d="M5.1,0 L5.1,10 M5.1,6.2 C4.7,4.2 3.5,3.1 2.3,3.1 C0.8,3.1 0,4.4 0,6.4 C0,8.6 1.1,10 2.6,10 C3.8,10 4.8,9.2 5.1,8"/></g><line x1="759" y1="745" x2="759" y2="814" stroke-width="2.0"/><line x1="653" y1="777" x2="713" y2="777" stroke-width="2.0"/><path d="M645,777 L656,774.9 L656,779.1 Z" fill="#000" stroke="none" shape-rendering="geometricPrecision"/><line x1="645" y1="777" x2="651" y2="777" stroke-width="1"/><path d="M721,777 L710,779.1 L710,774.9 Z" fill="#000" stroke="none" shape-rendering="geometricPrecision"/><line x1="715" y1="777" x2="721" y2="777" stroke-width="1"/><g transform="translate(683,774.4) scale(1.32) matrix(1,0,-0.29,1,0,0)" fill="none" stroke-width="1.17" stroke-linecap="round" stroke-linejoin="round" shape-rendering="geometricPrecision"><path transform="translate(-4.3,-10)" d="M0,10 L0,0 L5.7,10 L5.7,0"/></g><line x1="734" y1="777" x2="749" y2="777" stroke-width="2.0"/><path d="M757,777 L746,779.1 L746,774.9 Z" fill="#000" stroke="none" shape-rendering="geometricPrecision"/><line x1="751" y1="777" x2="757" y2="777" stroke-width="1"/><line x1="653" y1="809" x2="749" y2="809" stroke-width="2.0"/><path d="M645,809 L656,806.9 L656,811.1 Z" fill="#000" stroke="none" shape-rendering="geometricPrecision"/><line x1="645" y1="809" x2="651" y2="809" stroke-width="1"/><path d="M757,809 L746,811.1 L746,806.9 Z" fill="#000" stroke="none" shape-rendering="geometricPrecision"/><line x1="751" y1="809" x2="757" y2="809" stroke-width="1"/><g transform="translate(701,805.7) scale(1.32) matrix(1,0,-0.29,1,0,0)" fill="none" stroke-width="1.17" stroke-linecap="round" stroke-linejoin="round" shape-rendering="geometricPrecision"><path transform="translate(-5.55,-10)" d="M0,10 L0,0"/><path transform="translate(-2.55,-10)" d="M0.3,2.5 C0.5,0.9 1.7,0 3,0 C4.5,0 5.5,1 5.5,2.5 C5.5,3.9 4.6,4.9 3.5,5.9 L0,10 L5.6,10"/></g></svg></body></html>
